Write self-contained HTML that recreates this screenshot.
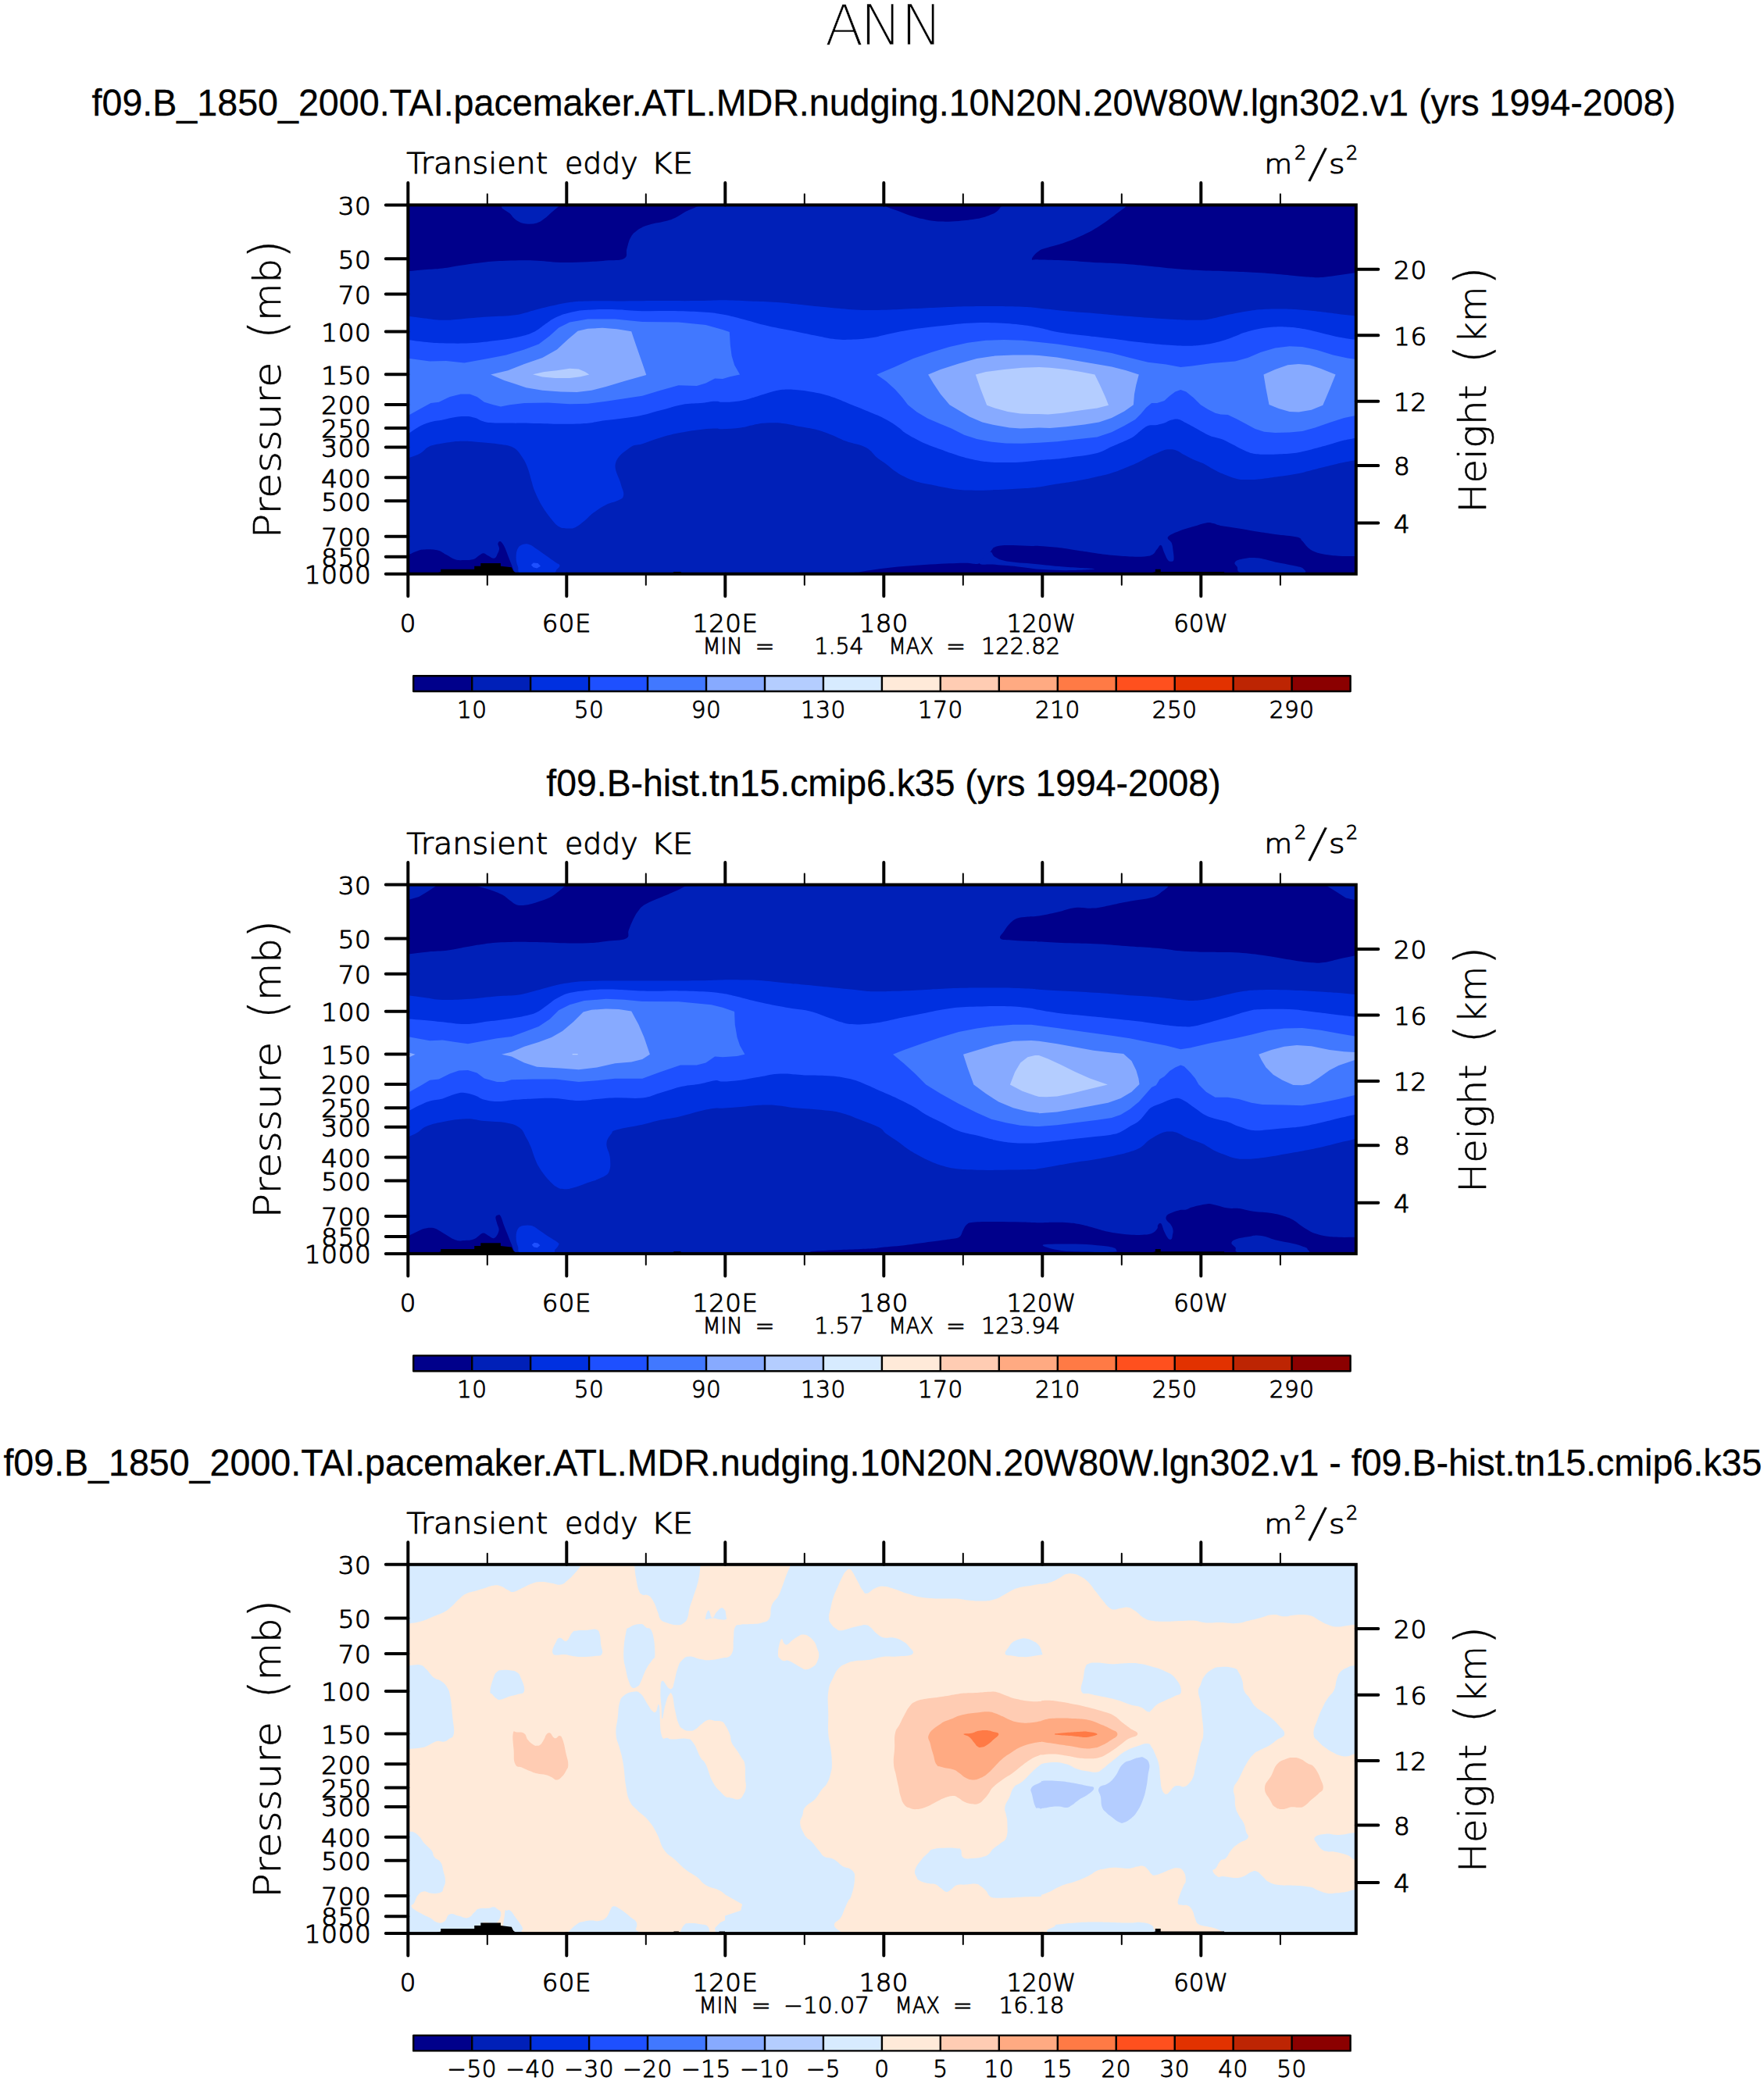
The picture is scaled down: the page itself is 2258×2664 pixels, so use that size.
<!DOCTYPE html>
<html lang="en"><head><meta charset="utf-8"><title>ANN Transient eddy KE</title>
<style>html,body{margin:0;padding:0;background:#fff}svg{display:block}.h{font-family:"DejaVu Sans Light","DejaVu Sans","Liberation Sans",sans-serif;font-weight:200;fill:#000;stroke:#000;stroke-linejoin:round}.t{font-family:"Liberation Sans",sans-serif;fill:#000;font-size:48px;stroke:#000;stroke-width:0.3px}</style></head><body>
<svg width="2258" height="2664" viewBox="0 0 2258 2664">
<rect width="2258" height="2664" fill="#fff"/>
<text class="h" x="1055.9 1100.9 1153.1" y="57.4" font-size="72" style="stroke:#fff" stroke-width="0.6">ANN</text>
<g transform="translate(0,0.0)">
<text class="t" x="117.5" y="148.3" textLength="2027.5" lengthAdjust="spacingAndGlyphs">f09.B_1850_2000.TAI.pacemaker.ATL.MDR.nudging.10N20N.20W80W.lgn302.v1 (yrs 1994-2008)</text>
<rect x="522.3" y="262.4" width="1213.5" height="472.3" fill="#0020b8"/>
<g clip-path="url(#clip)" shape-rendering="geometricPrecision">
<path d="M520.0 347.0C522.8 366.4 519.5 347.4 524.2 347.0C528.8 346.6 534.8 345.9 543.2 345.2C551.7 344.5 557.2 344.6 566.5 343.5C575.8 342.5 579.5 341.3 589.7 339.8C600.0 338.3 606.0 337.1 617.6 335.9C629.2 334.7 634.8 334.2 647.8 333.8C660.9 333.3 668.8 333.1 682.7 333.5C696.6 334.0 703.6 335.5 717.6 335.9C731.5 336.2 740.8 335.6 752.4 335.2C764.0 334.7 766.4 334.4 775.7 333.5C785.0 332.7 793.6 334.0 798.9 331.0C804.3 328.0 800.8 323.7 802.4 318.4C804.0 313.1 804.5 309.1 807.0 304.5C809.6 299.8 810.8 298.4 815.2 295.2C819.6 291.9 822.2 290.5 829.1 288.2C836.1 285.9 843.1 285.4 850.0 283.6C857.0 281.7 858.4 281.5 864.0 278.9C869.6 276.4 872.4 273.7 877.9 270.8C883.5 267.9 887.2 267.1 891.9 264.5C896.5 262.0 977.6 260.9 901.2 258.0C824.8 255.1 586.2 232.2 510.0 250.0C433.8 267.8 517.2 327.6 520.0 347.0Z" fill="#00008b"/>
<path d="M646.7 262.6C634.1 265.0 650.6 270.3 653.6 274.3C656.7 278.2 657.8 280.0 661.8 282.4C665.7 284.8 668.3 285.8 673.4 286.4C678.5 287.0 682.7 286.7 687.3 285.4C692.0 284.2 692.9 282.8 696.6 280.1C700.4 277.4 702.3 275.1 705.9 271.9C709.6 268.8 712.7 266.4 714.8 264.5C716.9 262.6 730.0 263.0 716.4 262.6C702.8 262.3 659.2 260.3 646.7 262.6Z" fill="#0020b8"/>
<path d="M1131.9 262.6C1102.1 263.0 1130.9 263.1 1134.2 264.5C1137.4 265.9 1141.6 267.2 1148.1 269.6C1154.6 272.0 1159.3 274.3 1166.7 276.6C1174.2 278.9 1177.9 279.8 1185.3 281.2C1192.8 282.6 1195.5 283.2 1203.9 283.6C1212.3 283.9 1217.9 283.6 1227.2 282.9C1236.5 282.2 1242.5 281.6 1250.4 280.1C1258.3 278.6 1261.6 277.3 1266.7 275.4C1271.8 273.6 1273.0 273.0 1276.0 270.8C1278.9 268.6 1279.9 266.1 1281.3 264.5C1282.7 262.9 1312.8 263.0 1282.9 262.6C1253.0 262.3 1161.6 262.3 1131.9 262.6Z" fill="#00008b"/>
<path d="M1443.9 260.3C1382.1 263.2 1443.9 262.0 1441.1 264.5C1438.3 267.1 1435.0 269.3 1429.9 273.1C1424.9 276.9 1422.0 279.4 1416.0 283.6C1410.0 287.8 1406.7 290.1 1399.7 294.0C1392.8 298.0 1389.0 299.8 1381.1 303.3C1373.2 306.8 1367.7 308.9 1360.2 311.5C1352.8 314.0 1350.0 314.2 1343.9 316.1C1337.9 318.1 1334.6 318.1 1330.0 321.2C1325.4 324.3 1320.9 329.4 1320.9 331.7C1320.9 333.9 1321.2 332.0 1330.0 332.4C1338.8 332.7 1350.9 332.8 1364.9 333.5C1378.8 334.2 1385.8 335.1 1399.7 335.9C1413.7 336.7 1420.6 336.6 1434.6 337.5C1448.5 338.4 1455.5 339.2 1469.5 340.5C1483.4 341.8 1490.4 342.8 1504.3 344.0C1518.3 345.2 1525.2 345.6 1539.2 346.3C1553.1 347.0 1560.1 346.9 1574.0 347.5C1588.0 348.0 1595.0 348.3 1608.9 349.1C1622.9 349.9 1632.2 350.7 1643.8 351.7C1655.4 352.6 1658.2 353.3 1667.0 354.0C1675.9 354.7 1680.0 355.3 1687.9 355.2C1695.8 355.0 1697.3 354.5 1706.5 353.3C1715.7 352.1 1725.6 350.5 1734.0 349.3C1742.3 348.2 1745.2 367.4 1748.4 347.5C1751.6 327.6 1810.9 267.4 1750.0 250.0C1689.1 232.6 1505.7 257.4 1443.9 260.3Z" fill="#00008b"/>
<path d="M520.0 404.7C520.8 368.2 519.5 404.6 524.2 405.1C528.8 405.7 534.8 406.5 543.2 407.5C551.7 408.4 557.2 409.6 566.5 409.8C575.8 410.0 578.1 409.2 589.7 408.4C601.3 407.5 610.6 406.6 624.6 405.6C638.5 404.6 647.8 404.9 659.5 403.3C671.1 401.6 673.4 399.8 682.7 397.5C692.0 395.1 696.6 393.7 705.9 391.6C715.2 389.6 719.9 388.3 729.2 387.0C738.5 385.7 738.5 385.7 752.4 385.4C766.4 385.0 780.3 385.4 798.9 385.4C817.5 385.3 826.8 385.2 845.4 385.1C864.0 385.1 876.0 385.3 891.9 385.1C907.8 385.0 911.3 384.2 924.9 384.2C938.5 384.3 945.9 384.8 959.9 385.4C973.8 385.9 980.8 386.0 994.7 387.0C1008.7 388.0 1015.6 389.1 1029.6 390.5C1043.5 391.9 1050.5 392.7 1064.5 394.0C1078.4 395.2 1085.4 396.2 1099.3 396.8C1113.3 397.3 1120.2 397.1 1134.2 396.8C1148.1 396.4 1155.1 395.8 1169.0 395.1C1183.0 394.5 1190.0 394.1 1203.9 393.5C1217.9 392.9 1224.8 392.6 1238.8 392.3C1252.7 392.1 1259.7 392.0 1273.6 392.1C1287.6 392.2 1297.3 392.3 1308.5 392.8C1319.8 393.3 1318.6 393.4 1329.9 394.4C1341.2 395.5 1350.9 396.9 1364.9 398.2C1378.8 399.5 1385.8 399.8 1399.7 400.9C1413.7 402.1 1420.6 402.8 1434.6 404.0C1448.5 405.1 1455.5 405.7 1469.5 406.8C1483.4 407.8 1491.8 408.5 1504.3 409.1C1516.9 409.7 1522.9 410.0 1532.2 409.8C1541.5 409.5 1542.4 409.4 1550.8 407.9C1559.2 406.5 1564.8 404.5 1574.0 402.6C1583.3 400.6 1588.0 399.5 1597.3 398.2C1606.6 396.8 1611.2 396.3 1620.5 395.8C1629.8 395.3 1634.5 395.4 1643.8 395.6C1653.1 395.8 1657.7 396.1 1667.0 396.8C1676.3 397.5 1681.0 398.0 1690.3 399.1C1699.6 400.2 1704.8 401.0 1713.5 402.1C1722.2 403.2 1727.0 403.7 1734.0 404.4C1740.9 405.1 1745.5 369.2 1748.4 405.6C1751.2 441.9 1751.2 549.5 1748.4 586.2C1745.5 622.9 1740.5 587.9 1734.0 589.2C1727.4 590.5 1723.2 591.1 1715.8 592.7C1708.5 594.3 1704.7 595.5 1697.2 597.3C1689.8 599.2 1686.1 600.1 1678.6 602.0C1671.2 603.9 1668.4 605.0 1660.0 606.6C1651.7 608.3 1645.6 608.9 1636.8 610.1C1628.0 611.4 1623.8 612.1 1615.9 612.9C1608.0 613.7 1603.8 614.1 1597.3 614.1C1590.8 614.1 1588.9 614.1 1583.3 612.9C1577.8 611.8 1575.0 610.5 1569.4 608.3C1563.8 606.1 1561.0 604.9 1555.5 602.0C1549.9 599.1 1546.6 596.4 1541.5 593.9C1536.4 591.3 1535.0 591.5 1529.9 589.2C1524.8 586.9 1520.6 584.7 1515.9 582.2C1511.3 579.8 1510.4 578.3 1506.6 576.9C1502.9 575.5 1501.1 575.3 1497.3 575.3C1493.6 575.3 1491.8 575.7 1488.0 576.9C1484.3 578.1 1482.5 579.4 1478.8 581.1C1475.0 582.7 1473.6 583.2 1469.5 585.3C1465.3 587.3 1463.4 588.9 1457.8 591.5C1452.3 594.2 1448.5 595.7 1441.6 598.5C1434.6 601.3 1431.3 602.9 1423.0 605.5C1414.6 608.0 1409.0 609.2 1399.7 611.3C1390.4 613.4 1385.8 614.3 1376.5 615.9C1367.2 617.6 1362.6 617.9 1353.2 619.4C1343.9 620.9 1338.8 622.2 1329.9 623.4C1320.9 624.5 1319.8 624.5 1308.5 625.2C1297.3 626.0 1287.6 626.6 1273.6 627.1C1259.7 627.6 1250.4 627.9 1238.8 627.6C1227.2 627.2 1224.8 626.6 1215.5 625.2C1206.2 623.8 1201.1 622.4 1192.3 620.6C1183.5 618.7 1178.3 618.0 1171.4 615.9C1164.4 613.8 1162.5 612.7 1157.4 610.1C1152.3 607.6 1150.5 606.4 1145.8 603.2C1141.2 599.9 1138.8 597.3 1134.2 593.9C1129.5 590.4 1127.7 589.9 1122.6 585.7C1117.4 581.5 1116.5 577.1 1108.6 572.9C1100.7 568.8 1091.9 568.1 1083.0 564.8C1074.2 561.5 1071.9 559.6 1064.5 556.7C1057.0 553.7 1053.8 552.3 1045.9 550.2C1038.0 548.1 1033.8 547.8 1024.9 546.2C1016.1 544.6 1010.5 543.0 1001.7 542.0C992.9 541.1 988.2 541.2 980.8 541.6C973.3 541.9 971.0 542.7 964.5 543.9C958.0 545.0 956.1 546.3 948.2 547.4C940.3 548.4 931.6 549.0 925.0 549.2C918.4 549.5 921.7 548.3 915.1 548.5C908.5 548.8 901.2 549.2 891.9 550.4C882.6 551.6 877.9 552.4 868.6 554.3C859.3 556.3 854.7 557.4 845.4 560.2C836.1 562.9 830.0 565.7 822.2 568.3C814.3 570.8 813.2 568.1 806.3 572.9C799.5 577.8 790.4 583.6 788.0 592.7C785.6 601.8 792.2 610.1 794.3 618.3C796.3 626.4 798.7 629.0 798.2 633.4C797.7 637.8 796.4 637.8 791.9 640.3C787.4 642.9 782.2 642.9 775.7 646.2C769.2 649.4 765.0 652.4 759.4 656.6C753.8 660.8 752.4 663.4 747.8 667.1C743.1 670.8 740.8 673.3 736.2 675.2C731.5 677.1 728.7 676.6 724.5 676.4C720.4 676.1 719.0 676.4 715.2 674.0C711.5 671.7 710.1 669.9 705.9 664.7C701.8 659.6 698.5 655.4 694.3 648.5C690.1 641.5 687.8 636.4 685.0 629.9C682.2 623.4 682.2 622.0 680.4 615.9C678.5 609.9 678.0 605.7 675.7 599.7C673.4 593.6 672.5 591.1 668.8 585.7C665.0 580.4 663.6 576.4 657.1 572.9C650.6 569.5 645.0 569.7 636.2 568.3C627.4 566.9 622.3 566.7 613.0 566.0C603.7 565.3 599.0 564.5 589.7 564.8C580.4 565.1 574.6 566.2 566.5 567.6C558.4 569.0 554.6 569.3 549.1 571.8C543.5 574.2 543.6 577.1 538.6 579.9C533.6 582.7 527.9 584.2 524.2 585.7C520.5 587.3 520.8 623.8 520.0 587.6C519.2 551.4 519.2 441.2 520.0 404.7Z" fill="#0030e0"/>
<path d="M520.0 434.6C520.8 410.3 519.5 434.7 524.2 435.3C528.8 435.9 534.8 436.9 543.2 437.7C551.7 438.5 554.9 439.0 566.5 439.3C578.1 439.6 587.4 440.0 601.3 439.3C615.3 438.6 623.7 437.4 636.2 435.8C648.8 434.2 654.8 433.2 664.1 431.2C673.4 429.1 676.2 428.4 682.7 425.3C689.2 422.3 691.1 419.8 696.6 416.0C702.2 412.3 704.1 409.9 710.6 406.8C717.1 403.6 720.8 402.2 729.2 400.2C737.6 398.2 740.8 397.5 752.4 396.8C764.0 396.0 773.3 396.0 787.3 396.3C801.2 396.6 805.9 397.8 822.2 398.2C838.4 398.5 852.4 397.8 868.6 398.2C884.9 398.5 892.3 398.9 903.5 399.8C914.8 400.7 915.9 400.9 924.9 402.6C933.8 404.2 936.6 405.0 948.2 407.9C959.9 410.8 969.2 414.0 983.1 417.2C997.1 420.5 1005.4 421.6 1018.0 424.2C1030.5 426.7 1035.6 428.0 1045.9 430.0C1056.1 432.0 1059.8 433.2 1069.1 434.2C1078.4 435.1 1082.6 435.1 1092.3 434.6C1102.1 434.2 1108.6 433.3 1117.9 431.9C1127.2 430.4 1128.6 429.3 1138.8 427.2C1149.1 425.1 1156.0 423.4 1169.0 421.4C1182.1 419.4 1190.0 418.7 1203.9 417.2C1217.9 415.7 1224.8 414.5 1238.8 413.7C1252.7 412.9 1259.7 412.8 1273.6 413.3C1287.6 413.7 1297.3 414.8 1308.5 416.0C1319.8 417.3 1320.9 417.8 1329.9 419.5C1338.8 421.3 1341.6 422.9 1353.2 424.9C1364.9 426.9 1374.2 427.8 1388.1 429.5C1402.1 431.3 1409.0 431.8 1423.0 433.5C1436.9 435.2 1443.9 436.5 1457.8 438.1C1471.8 439.8 1480.1 440.7 1492.7 441.6C1505.2 442.5 1511.3 442.8 1520.6 442.8C1529.9 442.8 1531.7 442.5 1539.2 441.6C1546.6 440.7 1550.3 440.0 1557.8 438.1C1565.2 436.3 1569.4 434.8 1576.4 432.3C1583.3 429.9 1586.1 428.0 1592.6 425.8C1599.1 423.6 1601.9 422.8 1608.9 421.4C1615.9 420.0 1620.5 419.4 1627.5 418.8C1634.5 418.2 1636.8 418.1 1643.8 418.4C1650.7 418.6 1654.5 418.8 1662.4 420.0C1670.3 421.2 1674.5 422.2 1683.3 424.2C1692.1 426.2 1698.2 428.1 1706.5 430.0C1714.9 431.9 1719.6 432.6 1725.1 433.5C1730.6 434.4 1729.3 434.2 1734.0 434.6C1738.6 435.1 1745.5 411.2 1748.4 435.8C1751.2 460.4 1751.2 532.8 1748.4 557.8C1745.5 582.8 1739.5 559.7 1734.0 560.9C1728.4 562.0 1726.9 562.0 1720.5 563.6C1714.1 565.3 1709.3 566.9 1701.9 569.0C1694.4 571.1 1690.7 572.1 1683.3 574.1C1675.9 576.1 1672.6 577.4 1664.7 578.7C1656.8 580.1 1652.1 580.5 1643.8 581.1C1635.4 581.7 1630.3 581.8 1622.9 581.8C1615.4 581.8 1612.6 582.1 1606.6 581.1C1600.5 580.0 1598.7 579.0 1592.6 576.4C1586.6 573.9 1582.0 571.1 1576.4 568.3C1570.8 565.5 1570.3 564.6 1564.8 562.5C1559.2 560.4 1555.0 560.5 1548.5 557.8C1542.0 555.1 1538.3 552.3 1532.2 549.0C1526.2 545.7 1522.9 544.0 1518.3 541.6C1513.6 539.1 1512.7 537.7 1509.0 536.9C1505.2 536.1 1503.4 536.7 1499.7 537.6C1496.0 538.5 1494.1 540.3 1490.4 541.6C1486.7 542.8 1485.3 543.2 1481.1 543.9C1476.9 544.6 1473.6 543.6 1469.5 545.0C1465.3 546.5 1463.9 548.5 1460.2 551.3C1456.4 554.1 1455.0 556.3 1450.9 559.0C1446.7 561.7 1444.8 562.2 1439.2 564.8C1433.7 567.4 1429.9 568.8 1423.0 571.8C1416.0 574.8 1413.7 577.4 1404.4 579.9C1395.1 582.5 1386.7 583.0 1376.5 584.6C1366.3 586.1 1362.6 586.7 1353.2 587.6C1343.9 588.5 1338.8 588.4 1329.9 589.2C1320.9 590.0 1317.0 591.0 1308.5 591.5C1300.0 592.1 1296.0 592.0 1287.6 592.0C1279.2 592.0 1274.1 592.1 1266.7 591.5C1259.2 591.0 1258.3 590.8 1250.4 589.2C1242.5 587.6 1236.5 586.2 1227.2 583.4C1217.9 580.6 1212.3 578.3 1203.9 575.3C1195.5 572.2 1192.3 571.3 1185.3 568.3C1178.3 565.3 1174.6 563.2 1169.0 560.2C1163.5 557.1 1161.1 555.7 1157.4 553.2C1153.7 550.6 1155.1 550.6 1150.5 547.4C1145.8 544.1 1142.1 541.1 1134.2 536.9C1126.3 532.7 1120.2 530.4 1110.9 526.5C1101.6 522.5 1097.0 520.9 1087.7 517.2C1078.4 513.4 1073.8 510.9 1064.5 507.9C1055.2 504.8 1050.5 503.8 1041.2 502.0C1031.9 500.3 1026.3 499.6 1018.0 499.0C1009.6 498.4 1007.3 498.0 999.4 499.0C991.5 500.1 986.4 502.1 978.5 504.4C970.6 506.6 966.8 508.3 959.9 510.2C952.9 512.0 950.6 512.7 943.6 513.7C936.6 514.6 930.7 514.8 925.0 514.8C919.3 514.8 920.8 513.4 915.1 513.7C909.4 513.9 904.9 515.2 896.5 516.0C888.2 516.8 883.5 516.0 873.3 517.9C863.1 519.7 857.0 522.3 845.4 525.3C833.8 528.3 829.1 530.4 815.2 533.0C801.2 535.5 789.1 536.3 775.7 538.1C762.2 539.9 759.4 541.1 747.8 542.0C736.2 543.0 730.6 542.7 717.6 542.7C704.5 542.7 696.6 542.3 682.7 542.0C668.8 541.8 659.9 541.9 647.8 541.6C635.7 541.2 630.2 541.7 622.3 540.4C614.4 539.1 613.4 536.5 608.3 535.1C603.2 533.6 601.8 533.2 596.7 533.0C591.6 532.7 588.8 533.0 582.8 533.9C576.7 534.8 573.0 536.1 566.5 537.4C560.0 538.7 556.3 538.6 550.2 540.4C544.2 542.2 541.5 543.4 536.3 546.2C531.1 549.0 527.4 552.2 524.2 554.3C520.9 556.5 520.8 581.1 520.0 557.1C519.2 533.2 519.2 459.0 520.0 434.6Z" fill="#1e50ff"/>
<path d="M520.0 458.4L524.2 459.0L550.2 462.5L571.1 462.1L594.4 464.4L624.6 459.0L647.8 454.4L671.1 447.4L689.7 440.5L703.6 430.0L715.2 419.5L729.2 412.6L752.4 408.6L787.3 408.4L822.2 411.9L868.6 412.6L903.5 416.0L924.9 421.9L933.8 424.9L934.8 441.6L936.6 455.6L940.1 467.2L947.1 479.5L934.3 482.3L925.0 485.1L915.1 484.6L903.5 490.4L891.9 493.9L868.6 493.2L845.4 499.7L822.2 506.7L798.9 510.2L775.7 513.7L752.4 516.7L729.2 517.2L701.3 515.5L671.1 516.0L652.5 518.3L640.9 520.6L631.6 518.3L619.9 514.8L610.6 507.9L601.3 504.4L589.7 504.4L575.8 507.9L561.8 514.8L551.4 516.0L538.6 523.0L524.2 531.1L520.0 533.9Z" fill="#4178ff"/>
<path d="M1122.1 479.5L1145.8 469.5L1169.0 459.0L1192.3 450.9L1215.5 443.9L1238.8 438.8L1262.0 435.8L1285.3 435.1L1308.5 435.8L1329.9 438.1L1353.2 440.5L1388.1 445.8L1423.0 452.1L1446.2 457.9L1469.5 463.7L1492.7 466.5L1511.3 470.0L1527.6 468.3L1550.8 464.9L1581.0 462.5L1597.3 457.9L1613.6 450.9L1632.2 445.6L1650.7 443.2L1667.0 443.9L1685.6 448.1L1706.5 454.4L1725.1 458.4L1734.0 459.7L1748.4 460.7L1748.4 529.9L1734.0 532.3L1720.5 535.1L1701.9 541.1L1683.3 547.4L1667.0 552.0L1650.7 553.6L1632.2 553.9L1618.2 552.7L1606.6 549.0L1595.0 542.7L1583.3 536.4L1571.7 531.1L1562.4 530.4L1555.5 528.8L1546.2 524.1L1536.9 518.3L1527.6 509.0L1518.3 501.6L1511.3 499.0L1504.3 501.6L1497.3 506.7L1490.4 513.0L1481.1 516.0L1474.1 516.0L1467.1 521.8L1460.2 529.9L1453.2 536.9L1439.2 545.0L1423.0 553.2L1404.4 559.5L1376.5 562.5L1353.2 565.3L1329.9 566.7L1308.5 567.8L1287.6 567.6L1266.7 565.3L1250.4 562.0L1234.1 556.7L1217.9 548.5L1203.9 542.7L1187.6 535.7L1173.7 527.6L1162.1 518.3L1155.1 509.0L1145.8 498.6L1134.2 488.1L1122.1 479.5Z" fill="#4178ff"/>
<path d="M628.1 479.5L650.2 474.2L671.1 466.0L694.3 457.9L712.9 447.4L726.9 434.6L739.6 423.7L752.4 420.7L771.0 419.8L789.6 421.2L808.2 424.2L814.0 441.6L822.2 464.9L827.3 480.0L798.9 488.1L775.7 495.1L757.1 499.7L738.5 502.0L717.6 501.4L694.3 499.7L673.4 496.2L659.5 491.6L645.5 486.9Z" fill="#87aaff"/>
<path d="M1188.1 479.5L1203.9 473.0L1227.2 465.6L1250.4 459.0L1273.6 455.6L1296.9 454.4L1320.1 454.4L1329.9 455.1L1353.2 457.4L1376.5 461.4L1399.7 465.6L1423.0 469.5L1441.6 474.2L1457.8 479.5L1454.3 492.8L1452.0 504.4L1450.9 518.3L1439.2 526.5L1423.0 535.1L1406.7 540.4L1388.1 543.4L1364.9 546.2L1343.9 548.1L1329.9 547.6L1320.1 548.1L1306.2 548.5L1292.2 547.4L1273.6 544.3L1257.4 540.4L1241.1 533.4L1227.2 525.3L1215.5 518.3L1203.9 504.4L1194.6 490.4L1188.1 479.5Z" fill="#87aaff"/>
<path d="M1617.5 479.5L1632.2 473.0L1648.4 467.2L1662.4 466.0L1676.3 467.2L1690.3 471.8L1709.6 479.5L1701.9 498.6L1693.3 518.8L1678.6 524.8L1662.4 527.6L1650.7 527.1L1636.8 523.0L1624.5 517.9L1620.5 497.4Z" fill="#87aaff"/>
<path d="M682.0 479.3L696.6 476.0L712.9 474.2L729.2 471.8L740.8 472.5L748.9 476.0L754.3 479.5L743.1 482.3L729.2 483.9L710.6 483.9L694.3 482.5Z" fill="#b4cdff"/>
<path d="M1248.8 479.5L1262.0 476.0L1285.3 473.0L1308.5 470.7L1329.9 470.0L1343.9 470.7L1364.9 473.0L1383.5 476.0L1401.4 479.5L1407.9 492.8L1414.8 507.9L1419.0 518.8L1404.4 522.5L1383.5 525.3L1360.2 528.8L1341.6 530.4L1329.9 529.9L1320.1 529.9L1306.2 529.5L1289.9 527.1L1273.6 522.5L1263.2 518.8L1255.0 497.4L1248.8 479.5Z" fill="#b4cdff"/>
<path d="M520.0 711.2C520.8 705.8 521.4 710.8 524.2 709.6C527.0 708.4 530.1 706.6 533.9 705.4C537.8 704.2 538.1 703.8 543.2 703.6C548.4 703.3 553.9 703.0 559.5 704.3C565.1 705.6 566.5 707.7 571.1 710.1C575.8 712.5 578.1 715.0 582.8 716.3C587.4 717.7 589.7 717.1 594.4 717.0C599.0 716.9 602.3 717.0 606.0 715.9C609.7 714.7 610.4 712.8 613.0 711.2C615.5 709.7 616.5 708.2 618.8 708.2C621.1 708.2 621.8 709.9 624.6 711.2C627.4 712.5 630.2 715.4 632.7 714.7C635.3 714.0 636.1 710.3 637.4 707.7C638.6 705.2 639.0 704.3 639.0 701.9C639.0 699.6 637.1 697.9 637.4 696.1C637.7 694.4 638.8 692.4 640.4 693.1C642.0 693.8 643.6 696.0 645.5 699.6C647.5 703.2 648.3 706.6 650.2 711.2C652.0 715.9 653.2 718.7 654.8 722.9C656.4 727.0 657.1 729.4 658.3 732.1C659.5 734.9 688.3 735.9 660.6 736.8C633.0 737.7 548.1 741.9 520.0 736.8C491.9 731.7 519.2 716.7 520.0 711.2Z" fill="#00008b"/>
<path d="M668.8 734.5C660.4 732.6 664.6 729.4 662.9 725.2C661.3 721.0 660.6 718.2 660.6 713.6C660.6 708.9 661.1 705.3 662.9 701.9C664.8 698.6 666.9 697.8 669.9 696.8C672.9 695.9 674.6 696.0 678.0 697.3C681.5 698.5 683.2 700.3 687.3 703.1C691.5 705.9 694.3 708.0 699.0 711.2C703.6 714.5 707.1 716.9 710.6 719.4C714.1 721.8 715.9 721.7 716.4 723.5C716.9 725.4 715.2 726.5 712.9 728.7C710.6 730.8 713.6 733.3 704.8 734.5C695.9 735.6 677.1 736.3 668.8 734.5Z" fill="#0030e0"/>
<path d="M679.9 723.3L682.7 720.5L688.5 721.0L692.0 724.7L687.3 727.5L682.7 726.3Z" fill="#1e50ff"/>
<path d="M1097.0 734.5C967.3 732.7 1092.2 733.9 1100.0 732.4C1107.9 730.9 1118.1 729.0 1136.3 727.0C1154.4 725.1 1171.1 723.9 1190.7 722.6C1210.2 721.4 1221.3 721.1 1234.1 720.8C1247.0 720.4 1248.2 723.8 1255.0 720.8C1261.9 717.7 1265.0 709.4 1268.5 705.4C1272.0 701.4 1270.1 702.2 1272.5 700.8C1274.9 699.4 1275.7 699.0 1280.6 698.4C1285.5 697.9 1289.0 697.9 1296.9 698.0C1304.8 698.1 1313.5 698.7 1320.1 698.9C1326.7 699.1 1323.4 698.5 1330.0 698.9C1336.6 699.3 1343.9 699.7 1353.2 700.8C1362.5 701.8 1367.2 702.9 1376.5 704.3C1385.8 705.7 1390.4 706.4 1399.7 707.7C1409.0 709.0 1413.7 709.8 1423.0 710.8C1432.3 711.7 1437.8 712.1 1446.2 712.4C1454.6 712.7 1459.0 712.9 1464.8 712.4C1470.6 711.9 1472.0 711.9 1475.3 710.1C1478.5 708.2 1478.9 705.5 1481.1 703.1C1483.3 700.7 1484.3 697.1 1486.2 698.0C1488.0 698.9 1488.6 703.9 1490.4 707.7C1492.1 711.6 1493.2 714.9 1495.0 717.0C1496.9 719.2 1498.2 718.9 1499.7 718.7C1501.2 718.4 1502.1 718.8 1502.5 715.9C1502.8 713.0 1502.1 708.4 1501.5 704.3C1501.0 700.1 1501.0 698.3 1499.7 695.0C1498.4 691.6 1493.2 690.5 1495.0 687.5C1496.9 684.5 1502.5 682.5 1509.0 679.9C1515.5 677.2 1520.6 676.1 1527.6 674.0C1534.5 672.0 1538.7 670.2 1543.8 669.4C1548.9 668.6 1549.4 669.4 1553.1 670.1C1556.8 670.8 1555.9 671.6 1562.4 672.9C1568.9 674.1 1576.4 674.8 1585.7 676.4C1595.0 677.9 1599.6 679.0 1608.9 680.6C1618.2 682.1 1621.9 682.6 1632.2 684.0C1642.4 685.4 1653.1 685.8 1660.0 687.5C1667.0 689.2 1664.2 690.0 1667.0 692.6C1669.8 695.3 1670.7 698.0 1674.0 700.8C1677.2 703.6 1678.6 704.7 1683.3 706.6C1687.9 708.4 1691.2 709.0 1697.2 710.1C1703.3 711.1 1706.2 711.3 1713.5 711.7C1720.8 712.1 1727.0 711.9 1734.0 711.9C1740.9 712.0 1745.5 706.0 1748.4 711.9C1751.2 717.8 1878.6 736.9 1748.4 741.4C1618.1 746.0 1226.7 736.3 1097.0 734.5Z" fill="#00008b"/>
<path d="M1253.9 721.0C1253.2 717.9 1263.2 708.6 1267.1 707.0C1271.1 705.5 1269.3 710.8 1273.6 713.1C1278.0 715.4 1278.5 716.7 1288.7 718.4C1299.0 720.2 1310.5 720.5 1325.0 721.9C1339.5 723.3 1345.9 724.2 1361.1 725.4C1376.4 726.7 1398.9 727.3 1401.1 728.2C1403.3 729.1 1385.2 729.9 1372.1 730.1C1359.0 730.2 1349.5 730.1 1335.7 729.1C1321.9 728.2 1316.2 726.7 1303.2 725.4C1290.1 724.1 1280.2 723.5 1270.4 722.6C1260.5 721.7 1254.5 724.1 1253.9 721.0Z" fill="#0020b8"/>
<path d="M1581.0 719.4C1582.4 717.4 1584.7 716.4 1590.3 715.4C1595.9 714.4 1600.5 713.5 1608.9 714.3C1617.3 715.0 1622.9 717.4 1632.2 719.4C1641.5 721.3 1648.2 722.3 1655.4 724.0C1662.6 725.7 1666.8 725.9 1668.2 728.0C1669.6 730.1 1677.0 733.2 1662.4 734.5C1647.7 735.8 1610.8 736.3 1595.0 734.5C1579.2 732.6 1586.1 728.2 1583.3 725.2C1580.6 722.2 1579.6 721.3 1581.0 719.4Z" fill="#0020b8"/>
<path d="M556.0 734.5L564.2 732.1L564.2 728.7L607.2 728.7L607.2 724.7L615.3 724.7L615.3 721.0L640.9 721.0L640.9 724.7L654.8 726.3L657.1 731.0L661.8 734.5Z" fill="#000"/>
<path d="M859.3 734.5L862.8 732.1L871.0 732.1L874.5 734.5Z" fill="#000"/>
<path d="M1469.5 734.5L1478.8 732.1L1478.8 728.7L1485.7 728.7L1485.7 732.1L1567.1 732.1L1567.1 734.5Z" fill="#000"/>
</g>
<rect x="522.3" y="262.4" width="1213.5" height="472.3" fill="none" stroke="#000" stroke-width="4"/>
<path d="M522.3 262.4v-28.5M522.3 734.7v28.5M725.3 262.4v-28.5M725.3 734.7v28.5M928.3 262.4v-28.5M928.3 734.7v28.5M1131.3 262.4v-28.5M1131.3 734.7v28.5M1334.3 262.4v-28.5M1334.3 734.7v28.5M1537.3 262.4v-28.5M1537.3 734.7v28.5" stroke="#000" stroke-width="4" stroke-linecap="round" fill="none"/>
<path d="M623.8 262.4v-14M623.8 734.7v14M826.8 262.4v-14M826.8 734.7v14M1029.8 262.4v-14M1029.8 734.7v14M1232.8 262.4v-14M1232.8 734.7v14M1435.8 262.4v-14M1435.8 734.7v14M1638.9 262.4v-14M1638.9 734.7v14" stroke="#000" stroke-width="2" stroke-linecap="round" fill="none"/>
<text class="h" x="475.5" y="274.7" font-size="32.6" stroke-width="1.1" text-anchor="end" letter-spacing="0.7">30</text>
<text class="h" x="475.5" y="343.5" font-size="32.6" stroke-width="1.1" text-anchor="end" letter-spacing="0.7">50</text>
<text class="h" x="475.5" y="388.8" font-size="32.6" stroke-width="1.1" text-anchor="end" letter-spacing="0.7">70</text>
<text class="h" x="475.5" y="436.9" font-size="32.6" stroke-width="1.1" text-anchor="end" letter-spacing="0.7">100</text>
<text class="h" x="475.5" y="491.5" font-size="32.6" stroke-width="1.1" text-anchor="end" letter-spacing="0.7">150</text>
<text class="h" x="475.5" y="530.2" font-size="32.6" stroke-width="1.1" text-anchor="end" letter-spacing="0.7">200</text>
<text class="h" x="475.5" y="560.3" font-size="32.6" stroke-width="1.1" text-anchor="end" letter-spacing="0.7">250</text>
<text class="h" x="475.5" y="584.8" font-size="32.6" stroke-width="1.1" text-anchor="end" letter-spacing="0.7">300</text>
<text class="h" x="475.5" y="623.6" font-size="32.6" stroke-width="1.1" text-anchor="end" letter-spacing="0.7">400</text>
<text class="h" x="475.5" y="653.6" font-size="32.6" stroke-width="1.1" text-anchor="end" letter-spacing="0.7">500</text>
<text class="h" x="475.5" y="699.0" font-size="32.6" stroke-width="1.1" text-anchor="end" letter-spacing="0.7">700</text>
<text class="h" x="475.5" y="725.1" font-size="32.6" stroke-width="1.1" text-anchor="end" letter-spacing="0.7">850</text>
<text class="h" x="475.5" y="747.0" font-size="32.6" stroke-width="1.1" text-anchor="end" letter-spacing="0.7">1000</text>
<text class="h" x="1784.0" y="681.9" font-size="32.6" stroke-width="1.1" text-anchor="start" letter-spacing="0.7">4</text>
<text class="h" x="1784.0" y="608.3" font-size="32.6" stroke-width="1.1" text-anchor="start" letter-spacing="0.7">8</text>
<text class="h" x="1784.0" y="526.0" font-size="32.6" stroke-width="1.1" text-anchor="start" letter-spacing="0.7">12</text>
<text class="h" x="1784.0" y="441.6" font-size="32.6" stroke-width="1.1" text-anchor="start" letter-spacing="0.7">16</text>
<text class="h" x="1784.0" y="357.0" font-size="32.6" stroke-width="1.1" text-anchor="start" letter-spacing="0.7">20</text>
<path d="M522.3 262.4h-28.5M522.3 331.2h-28.5M522.3 376.5h-28.5M522.3 424.6h-28.5M522.3 479.2h-28.5M522.3 517.9h-28.5M522.3 548.0h-28.5M522.3 572.5h-28.5M522.3 611.3h-28.5M522.3 641.3h-28.5M522.3 686.7h-28.5M522.3 712.8h-28.5M522.3 734.7h-28.5M1735.8 669.6h28.5M1735.8 596.0h28.5M1735.8 513.7h28.5M1735.8 429.3h28.5M1735.8 344.7h28.5" stroke="#000" stroke-width="4" stroke-linecap="round" fill="none"/>
<text class="h" x="522.3" y="808.8" font-size="32.4" stroke-width="1.0" text-anchor="middle" letter-spacing="0.5">0</text>
<text class="h" x="725.3" y="808.8" font-size="32.4" stroke-width="1.0" text-anchor="middle" letter-spacing="0.5">60E</text>
<text class="h" x="928.3" y="808.8" font-size="32.4" stroke-width="1.0" text-anchor="middle" letter-spacing="0.5">120E</text>
<text class="h" x="1131.3" y="808.8" font-size="32.4" stroke-width="1.0" text-anchor="middle" letter-spacing="0.5">180</text>
<text class="h" x="1288.8" y="808.8" font-size="32.4" stroke-width="1.0" text-anchor="start" textLength="88.5" lengthAdjust="spacingAndGlyphs">120W</text>
<text class="h" x="1502.3" y="808.8" font-size="32.4" stroke-width="1.0" text-anchor="start" textLength="69.5" lengthAdjust="spacingAndGlyphs">60W</text>
<text class="h"><tspan x="520.3" y="222.4" font-size="38.1" stroke-width="1.0" textLength="181.0" lengthAdjust="spacingAndGlyphs">Transient</tspan> <tspan x="723" y="222.4" font-size="38.1" stroke-width="1.0" textLength="93.5" lengthAdjust="spacingAndGlyphs">eddy</tspan> <tspan x="833.3" y="222.4" font-size="38.1" stroke-width="1.0" textLength="54.0" lengthAdjust="spacingAndGlyphs">KE</tspan></text>
<text class="h"><tspan x="1618.5" y="222.2" font-size="34.5" stroke-width="1.0" textLength="35.5" lengthAdjust="spacingAndGlyphs">m</tspan><tspan x="1657" y="204.3" font-size="24" stroke-width="1.0">2</tspan><tspan x="1674.5" y="226.4" font-size="55" stroke-width="0.3" rotate="9.5">/</tspan><tspan x="1701" y="222.2" font-size="34.5" stroke-width="1.0" textLength="20.5" lengthAdjust="spacingAndGlyphs">s</tspan><tspan x="1723" y="204.3" font-size="24" stroke-width="1.0">2</tspan></text>
<text class="h" transform="translate(359,0) rotate(-90)"><tspan x="-689.5" y="0.0" font-size="48" stroke-width="0.6" textLength="226.0" lengthAdjust="spacingAndGlyphs">Pressure</tspan> <tspan x="-434.5" y="3.6" font-size="62.4" stroke-width="0.3">(</tspan><tspan x="-411.0" y="0.0" font-size="48" stroke-width="0.6" textLength="80.0" lengthAdjust="spacingAndGlyphs">mb</tspan><tspan x="-331.2" y="3.6" font-size="62.4" stroke-width="0.3">)</tspan></text>
<text class="h" transform="translate(1902,0) rotate(-90)"><tspan x="-656.5" y="0.0" font-size="48" stroke-width="0.6" textLength="164.0" lengthAdjust="spacingAndGlyphs">Height</tspan> <tspan x="-465.7" y="3.6" font-size="62.4" stroke-width="0.3">(</tspan><tspan x="-439.5" y="0.0" font-size="48" stroke-width="0.6" textLength="73.0" lengthAdjust="spacingAndGlyphs">km</tspan><tspan x="-365.2" y="3.6" font-size="62.4" stroke-width="0.3">)</tspan></text>
<text class="h"><tspan x="899.5" y="836.8" font-size="28.3" stroke-width="0.9" textLength="51.0" lengthAdjust="spacingAndGlyphs">MIN</tspan> <tspan x="966.5" y="836.8" font-size="28.3" stroke-width="0.9" textLength="25.0" lengthAdjust="spacingAndGlyphs">=</tspan> <tspan x="1042.5" y="836.8" font-size="28.3" stroke-width="0.9" textLength="63.0" lengthAdjust="spacingAndGlyphs">1.54</tspan> <tspan x="1137.5" y="836.8" font-size="28.3" stroke-width="0.9" textLength="57.5" lengthAdjust="spacingAndGlyphs">MAX</tspan> <tspan x="1211.0" y="836.8" font-size="28.3" stroke-width="0.9" textLength="25.0" lengthAdjust="spacingAndGlyphs">=</tspan> <tspan x="1256.0" y="836.8" font-size="28.3" stroke-width="0.9" textLength="101.0" lengthAdjust="spacingAndGlyphs">122.82</tspan></text>
<rect x="529.20" y="865.2" width="75.46" height="19.8" fill="#00008b"/>
<rect x="604.16" y="865.2" width="75.46" height="19.8" fill="#0020b8"/>
<rect x="679.12" y="865.2" width="75.46" height="19.8" fill="#0030e0"/>
<rect x="754.08" y="865.2" width="75.46" height="19.8" fill="#1e50ff"/>
<rect x="829.04" y="865.2" width="75.46" height="19.8" fill="#4178ff"/>
<rect x="904.00" y="865.2" width="75.46" height="19.8" fill="#87aaff"/>
<rect x="978.96" y="865.2" width="75.46" height="19.8" fill="#b4cdff"/>
<rect x="1053.92" y="865.2" width="75.46" height="19.8" fill="#d7ebff"/>
<rect x="1128.88" y="865.2" width="75.46" height="19.8" fill="#ffead9"/>
<rect x="1203.84" y="865.2" width="75.46" height="19.8" fill="#ffccb3"/>
<rect x="1278.80" y="865.2" width="75.46" height="19.8" fill="#ffaa82"/>
<rect x="1353.76" y="865.2" width="75.46" height="19.8" fill="#ff7a45"/>
<rect x="1428.72" y="865.2" width="75.46" height="19.8" fill="#ff501e"/>
<rect x="1503.68" y="865.2" width="75.46" height="19.8" fill="#e23200"/>
<rect x="1578.64" y="865.2" width="75.46" height="19.8" fill="#bd2503"/>
<rect x="1653.60" y="865.2" width="75.46" height="19.8" fill="#8b0000"/>
<path d="M529.2 865.2H1728.6V885H529.2ZM604.2 865.2V885M679.1 865.2V885M754.1 865.2V885M829.0 865.2V885M904.0 865.2V885M979.0 865.2V885M1053.9 865.2V885M1128.9 865.2V885M1203.8 865.2V885M1278.8 865.2V885M1353.8 865.2V885M1428.7 865.2V885M1503.7 865.2V885M1578.6 865.2V885M1653.6 865.2V885" stroke="#000" stroke-width="2.4" fill="none" stroke-linejoin="round"/>
<text class="h" x="604.2" y="918.6" font-size="29.5" stroke-width="0.9" text-anchor="middle" letter-spacing="0.5">10</text>
<text class="h" x="754.1" y="918.6" font-size="29.5" stroke-width="0.9" text-anchor="middle" letter-spacing="0.5">50</text>
<text class="h" x="904.0" y="918.6" font-size="29.5" stroke-width="0.9" text-anchor="middle" letter-spacing="0.5">90</text>
<text class="h" x="1053.9" y="918.6" font-size="29.5" stroke-width="0.9" text-anchor="middle" letter-spacing="0.5">130</text>
<text class="h" x="1203.8" y="918.6" font-size="29.5" stroke-width="0.9" text-anchor="middle" letter-spacing="0.5">170</text>
<text class="h" x="1353.8" y="918.6" font-size="29.5" stroke-width="0.9" text-anchor="middle" letter-spacing="0.5">210</text>
<text class="h" x="1503.7" y="918.6" font-size="29.5" stroke-width="0.9" text-anchor="middle" letter-spacing="0.5">250</text>
<text class="h" x="1653.6" y="918.6" font-size="29.5" stroke-width="0.9" text-anchor="middle" letter-spacing="0.5">290</text>
</g>
<g transform="translate(0,870.2)">
<text class="t" x="699.3" y="148.7" textLength="863.3" lengthAdjust="spacingAndGlyphs">f09.B-hist.tn15.cmip6.k35 (yrs 1994-2008)</text>
<rect x="522.3" y="262.4" width="1213.5" height="472.3" fill="#0020b8"/>
<g clip-path="url(#clip)" shape-rendering="geometricPrecision">
<path d="M520.0 351.4C522.8 371.6 518.6 351.6 524.2 351.0C529.8 350.3 538.0 349.1 547.9 348.2C557.7 347.3 563.7 347.5 573.5 346.3C583.2 345.1 587.4 343.8 596.7 342.1C606.0 340.5 609.3 339.4 619.9 338.2C630.6 336.9 637.6 336.3 650.2 335.9C662.7 335.4 669.2 335.6 682.7 335.9C696.2 336.1 703.6 336.8 717.6 337.0C731.5 337.3 740.8 337.5 752.4 337.0C764.0 336.6 765.9 335.9 775.7 334.7C785.4 333.5 795.4 334.0 801.2 331.2C807.0 328.4 802.9 325.6 804.7 320.8C806.6 315.9 808.0 311.9 810.5 306.8C813.1 301.7 814.3 299.1 817.5 295.2C820.8 291.2 821.2 290.3 826.8 287.1C832.4 283.8 838.4 281.9 845.4 278.9C852.4 275.9 855.6 274.7 861.7 271.9C867.7 269.2 872.1 267.1 875.6 265.0C879.1 262.9 952.2 264.5 879.1 261.5C806.0 258.5 581.8 232.0 510.0 250.0C438.2 268.0 517.2 331.2 520.0 351.4Z" fill="#00008b"/>
<path d="M520.0 260.3L559.5 260.3L557.2 264.5L547.9 270.8L536.3 277.8L524.2 281.2L520.0 281.9Z" fill="#0020b8"/>
<path d="M608.3 261.5C586.0 262.1 608.8 262.9 613.0 264.5C617.2 266.1 623.2 267.4 629.2 269.6C635.3 271.8 638.5 272.9 643.2 275.4C647.8 278.0 648.8 279.8 652.5 282.4C656.2 285.0 657.6 287.1 661.8 288.2C666.0 289.4 668.3 288.9 673.4 288.2C678.5 287.5 681.3 286.6 687.3 284.7C693.4 282.9 698.0 281.7 703.6 278.9C709.2 276.1 711.5 273.7 715.2 270.8C719.0 267.9 720.4 266.4 722.2 264.5C724.1 262.6 747.3 262.1 724.5 261.5C701.8 260.9 630.6 260.9 608.3 261.5Z" fill="#0020b8"/>
<path d="M1498.5 260.3C1447.6 263.2 1497.6 262.4 1495.5 264.5C1493.4 266.6 1492.3 267.9 1488.0 270.8C1483.8 273.7 1482.5 276.4 1474.1 278.9C1465.7 281.5 1456.4 281.7 1446.2 283.6C1436.0 285.4 1432.3 286.4 1423.0 288.2C1413.7 290.0 1409.0 291.7 1399.7 292.4C1390.4 293.1 1385.8 290.7 1376.5 291.7C1367.2 292.7 1362.5 295.4 1353.2 297.5C1343.9 299.6 1337.6 301.0 1330.0 302.2C1322.4 303.3 1321.2 302.6 1315.5 303.3C1309.8 304.0 1306.2 303.8 1301.5 305.6C1296.9 307.5 1295.5 309.4 1292.2 312.6C1289.0 315.9 1287.6 318.2 1285.3 321.9C1282.9 325.6 1278.3 328.9 1280.6 331.2C1282.9 333.5 1289.0 332.8 1296.9 333.5C1304.8 334.2 1313.5 334.4 1320.1 334.7C1326.7 335.0 1321.1 334.7 1330.0 335.2C1338.9 335.6 1349.5 336.4 1364.9 337.0C1380.2 337.6 1390.4 337.4 1406.7 338.2C1423.0 339.0 1431.3 340.1 1446.2 341.2C1461.1 342.3 1467.1 342.3 1481.1 343.5C1495.0 344.8 1502.0 346.5 1515.9 347.5C1529.9 348.5 1536.9 348.3 1550.8 348.6C1564.8 349.0 1571.7 348.4 1585.7 349.3C1599.6 350.3 1606.6 351.3 1620.5 353.3C1634.5 355.2 1643.8 357.3 1655.4 359.1C1667.0 360.9 1670.7 361.6 1678.6 362.1C1686.5 362.7 1687.9 362.8 1694.9 361.9C1701.9 361.0 1705.7 359.2 1713.5 357.5C1721.3 355.8 1727.0 354.6 1734.0 353.3C1740.9 352.0 1745.2 371.6 1748.4 351.0C1751.6 330.3 1800.0 268.1 1750.0 250.0C1700.0 231.9 1549.4 257.4 1498.5 260.3Z" fill="#00008b"/>
<path d="M1696.1 261.5L1699.6 264.5L1711.2 271.9L1722.8 279.4L1734.0 281.9L1748.4 282.4L1748.4 261.5Z" fill="#0020b8"/>
<path d="M520.0 404.0C520.8 367.5 519.5 403.9 524.2 404.4C528.8 405.0 534.8 405.7 543.2 406.8C551.7 407.8 554.9 409.4 566.5 409.8C578.1 410.1 587.4 409.5 601.3 408.6C615.3 407.7 623.7 406.2 636.2 405.1C648.8 404.1 653.9 404.8 664.1 403.3C674.3 401.7 678.0 399.9 687.3 397.5C696.6 395.0 702.2 393.1 710.6 391.2C719.0 389.2 720.8 388.8 729.2 387.7C737.6 386.6 738.5 386.3 752.4 385.8C766.4 385.4 780.3 385.5 798.9 385.4C817.5 385.3 826.8 385.4 845.4 385.4C864.0 385.3 876.0 385.4 891.9 385.1C907.8 384.9 913.6 384.4 924.9 384.2C936.2 384.0 938.9 384.1 948.2 384.2C957.6 384.3 959.9 383.9 971.5 384.7C983.1 385.5 992.4 386.8 1006.3 388.2C1020.3 389.6 1027.3 390.3 1041.2 391.6C1055.2 393.0 1064.5 394.0 1076.1 395.1C1087.7 396.3 1091.0 396.7 1099.3 397.5C1107.7 398.2 1108.6 398.9 1117.9 399.1C1127.2 399.3 1133.3 399.0 1145.8 398.6C1158.4 398.2 1166.7 397.7 1180.7 397.0C1194.6 396.3 1201.6 395.6 1215.5 395.1C1229.5 394.6 1236.5 394.6 1250.4 394.4C1264.3 394.3 1271.3 394.2 1285.3 394.4C1299.2 394.7 1311.2 395.2 1320.1 395.6C1329.0 396.0 1320.9 395.9 1329.9 396.5C1338.8 397.1 1349.5 397.7 1364.9 398.6C1380.2 399.5 1390.4 399.9 1406.7 400.9C1423.0 402.0 1431.3 402.9 1446.2 404.0C1461.1 405.0 1468.1 405.1 1481.1 406.3C1494.1 407.5 1502.0 408.9 1511.3 409.8C1520.6 410.7 1520.6 410.9 1527.6 410.7C1534.5 410.5 1537.8 410.1 1546.2 408.6C1554.5 407.1 1560.1 405.3 1569.4 403.3C1578.7 401.3 1583.3 399.9 1592.6 398.6C1601.9 397.4 1603.3 397.2 1615.9 397.0C1628.4 396.8 1640.5 397.0 1655.4 397.5C1670.3 397.9 1678.6 398.6 1690.3 399.3C1701.9 400.0 1704.8 400.2 1713.5 400.9C1722.2 401.6 1727.0 402.2 1734.0 402.8C1740.9 403.4 1745.5 367.6 1748.4 404.0C1751.2 440.3 1751.2 547.7 1748.4 584.6C1745.5 621.4 1740.9 586.4 1734.0 588.0C1727.0 589.7 1722.2 590.6 1713.5 592.7C1704.8 594.8 1699.6 596.4 1690.3 598.5C1681.0 600.6 1676.3 601.4 1667.0 603.2C1657.7 604.9 1653.1 605.7 1643.8 607.3C1634.5 609.0 1629.8 610.0 1620.5 611.3C1611.2 612.5 1605.2 613.4 1597.3 613.6C1589.4 613.8 1587.1 613.6 1581.0 612.5C1575.0 611.3 1572.7 609.9 1567.1 607.8C1561.5 605.7 1558.7 604.8 1553.1 602.0C1547.6 599.2 1545.7 596.9 1539.2 593.9C1532.7 590.8 1527.1 589.7 1520.6 586.9C1514.1 584.1 1511.3 581.6 1506.6 579.9C1502.0 578.2 1501.1 578.3 1497.3 578.3C1493.6 578.3 1492.2 578.4 1488.0 579.9C1483.9 581.4 1480.1 583.6 1476.4 585.7C1472.7 587.8 1472.7 587.8 1469.5 590.4C1466.2 592.9 1464.8 595.7 1460.2 598.5C1455.5 601.3 1452.7 602.2 1446.2 604.3C1439.7 606.4 1436.0 607.1 1427.6 609.0C1419.3 610.8 1414.6 611.8 1404.4 613.6C1394.1 615.4 1386.7 616.2 1376.5 617.8C1366.3 619.4 1362.6 620.2 1353.2 621.7C1343.9 623.3 1336.5 624.7 1329.9 625.7C1323.3 626.7 1329.0 626.5 1320.1 626.9C1311.2 627.2 1299.2 627.4 1285.3 627.6C1271.3 627.7 1262.0 627.8 1250.4 627.6C1238.8 627.3 1235.5 627.3 1227.2 626.4C1218.8 625.5 1215.5 624.8 1208.6 622.9C1201.6 621.0 1198.8 619.9 1192.3 617.1C1185.8 614.3 1182.1 612.2 1176.0 609.0C1170.0 605.7 1167.7 604.5 1162.1 600.8C1156.5 597.1 1153.7 594.3 1148.1 590.4C1142.6 586.4 1138.8 584.6 1134.2 581.1C1129.5 577.6 1131.9 576.7 1124.9 572.9C1117.9 569.2 1109.1 566.2 1099.3 562.5C1089.6 558.8 1085.4 556.7 1076.1 554.3C1066.8 552.0 1064.5 552.1 1052.8 550.9C1041.2 549.6 1029.6 549.2 1018.0 548.1C1006.3 546.9 1004.0 545.7 994.7 545.0C985.4 544.3 980.8 544.2 971.5 544.6C962.2 545.0 957.5 546.1 948.2 546.9C938.9 547.7 931.6 548.2 925.0 548.5C918.4 548.9 920.8 547.8 915.1 548.5C909.4 549.2 905.8 549.8 896.5 552.0C887.2 554.2 878.9 557.1 868.6 559.5C858.4 561.8 854.7 561.6 845.4 563.6C836.1 565.6 833.3 567.0 822.2 569.5C811.0 571.9 797.5 573.6 789.6 576.0C781.7 578.3 785.3 577.5 782.6 581.1C780.0 584.7 776.7 587.8 776.4 593.9C776.0 599.9 780.1 604.3 780.8 611.3C781.5 618.3 781.8 623.6 779.9 628.7C777.9 633.8 776.5 633.8 771.0 636.9C765.5 639.9 759.9 641.1 752.4 643.8C745.0 646.5 739.9 648.7 733.8 650.3C727.8 652.0 726.4 652.1 722.2 652.0C718.0 651.8 717.1 652.2 712.9 649.6C708.7 647.1 705.7 644.1 701.3 639.2C696.9 634.3 694.1 630.3 690.8 625.2C687.6 620.1 687.3 619.2 685.0 613.6C682.7 608.0 681.5 602.9 679.2 597.3C676.9 591.8 676.2 590.5 673.4 585.7C670.6 581.0 670.4 577.4 665.3 573.6C660.2 569.9 656.9 568.9 647.8 567.1C638.8 565.4 630.2 565.8 619.9 564.8C609.7 563.8 607.4 561.8 596.7 562.0C586.0 562.2 576.7 564.0 566.5 566.0C556.3 567.9 552.1 569.0 545.6 571.8C539.1 574.6 538.2 577.4 533.9 579.9C529.7 582.5 527.0 583.2 524.2 584.6C521.4 586.0 520.8 623.0 520.0 586.9C519.2 550.8 519.2 440.5 520.0 404.0Z" fill="#0030e0"/>
<path d="M520.0 433.7C520.8 409.8 519.5 433.8 524.2 434.2C528.8 434.6 534.8 435.0 543.2 435.8C551.7 436.6 555.8 437.1 566.5 438.1C577.2 439.2 585.1 441.1 596.7 440.9C608.3 440.8 613.0 438.9 624.6 437.4C636.2 435.9 644.1 435.2 654.8 433.5C665.5 431.8 671.1 430.7 678.0 428.8C685.0 427.0 685.0 426.7 689.7 424.2C694.3 421.6 696.6 419.3 701.3 416.0C705.9 412.8 707.3 410.9 712.9 407.9C718.5 404.9 721.3 403.0 729.2 400.9C737.1 398.9 743.1 398.4 752.4 397.5C761.7 396.5 766.4 396.4 775.7 396.3C785.0 396.2 787.3 396.5 798.9 397.0C810.5 397.5 819.8 398.4 833.8 398.6C847.7 398.9 854.7 398.0 868.6 398.2C882.6 398.3 892.3 398.6 903.5 399.3C914.8 400.0 916.9 400.4 924.9 401.6C932.9 402.9 934.3 403.4 943.6 405.6C952.9 407.8 958.9 409.8 971.5 412.6C984.0 415.4 993.3 417.2 1006.3 419.5C1019.4 421.9 1025.9 421.6 1036.6 424.2C1047.3 426.7 1051.9 429.5 1059.8 432.3C1067.7 435.1 1070.0 436.4 1076.1 438.1C1082.1 439.9 1083.0 440.5 1090.0 440.9C1097.0 441.4 1102.1 441.2 1110.9 440.5C1119.8 439.7 1124.9 438.7 1134.2 437.0C1143.5 435.2 1148.1 433.8 1157.4 431.9C1166.7 429.9 1169.0 429.4 1180.7 427.2C1192.3 425.0 1201.6 422.5 1215.5 420.7C1229.5 418.9 1236.5 418.9 1250.4 418.4C1264.3 417.8 1272.2 417.6 1285.3 417.9C1298.3 418.2 1306.6 419.1 1315.5 420.0C1324.4 420.9 1322.3 421.3 1329.9 422.6C1337.4 423.9 1341.6 425.0 1353.2 426.5C1364.9 428.0 1374.2 428.6 1388.1 430.0C1402.1 431.4 1409.0 432.0 1423.0 433.5C1436.9 435.0 1444.8 435.8 1457.8 437.4C1470.9 439.1 1477.4 440.3 1488.0 441.6C1498.7 442.9 1503.4 443.6 1511.3 443.9C1519.2 444.3 1519.7 444.7 1527.6 443.5C1535.5 442.2 1541.5 440.1 1550.8 437.7C1560.1 435.2 1564.8 433.9 1574.0 431.2C1583.3 428.5 1588.9 426.0 1597.3 424.2C1605.7 422.3 1605.2 422.3 1615.9 421.9C1626.6 421.4 1638.2 421.3 1650.7 421.9C1663.3 422.5 1667.5 423.6 1678.6 424.9C1689.8 426.2 1695.5 427.0 1706.5 428.4C1717.6 429.7 1725.6 430.6 1734.0 431.6C1742.3 432.6 1745.5 409.2 1748.4 433.5C1751.2 457.8 1751.2 528.5 1748.4 553.2C1745.5 577.8 1740.9 555.0 1734.0 556.7C1727.0 558.3 1722.2 559.2 1713.5 561.3C1704.8 563.4 1699.6 565.0 1690.3 567.1C1681.0 569.2 1676.3 570.4 1667.0 571.8C1657.7 573.2 1652.6 573.3 1643.8 574.1C1634.9 574.9 1630.8 575.4 1622.9 576.0C1615.0 576.5 1611.7 577.7 1604.3 576.9C1596.8 576.1 1592.2 574.0 1585.7 571.8C1579.2 569.6 1577.3 567.8 1571.7 566.0C1566.1 564.1 1563.4 564.1 1557.8 562.5C1552.2 560.9 1549.4 560.6 1543.8 557.8C1538.3 555.0 1535.0 552.0 1529.9 548.5C1524.8 545.0 1522.4 543.0 1518.3 540.4C1514.1 537.8 1512.7 536.4 1509.0 535.7C1505.2 535.1 1503.9 535.7 1499.7 536.9C1495.5 538.1 1493.2 539.5 1488.0 541.6C1482.9 543.7 1478.3 544.8 1474.1 547.4C1469.9 549.9 1470.4 550.9 1467.1 554.3C1463.9 557.8 1462.0 561.3 1457.8 564.8C1453.7 568.3 1450.9 569.0 1446.2 571.8C1441.6 574.6 1439.2 576.7 1434.6 578.7C1429.9 580.8 1429.0 581.1 1423.0 582.2C1416.9 583.4 1413.7 583.5 1404.4 584.6C1395.1 585.6 1386.7 586.4 1376.5 587.6C1366.3 588.7 1362.6 589.3 1353.2 590.4C1343.9 591.4 1336.5 592.3 1329.9 592.9C1323.3 593.5 1326.7 593.4 1320.1 593.4C1313.5 593.3 1306.2 593.5 1296.9 592.7C1287.6 591.9 1282.9 591.1 1273.6 589.2C1264.3 587.3 1259.7 585.7 1250.4 583.4C1241.1 581.1 1236.5 581.1 1227.2 577.6C1217.9 574.1 1212.3 570.1 1203.9 566.0C1195.5 561.8 1192.3 560.6 1185.3 556.7C1178.3 552.7 1176.5 550.4 1169.0 546.2C1161.6 542.0 1156.5 539.7 1148.1 535.7C1139.8 531.8 1135.6 530.2 1127.2 526.5C1118.8 522.7 1114.2 520.3 1106.3 517.2C1098.4 514.0 1096.1 512.9 1087.7 510.9C1079.3 508.9 1076.1 508.1 1064.5 507.2C1052.8 506.2 1042.6 506.8 1029.6 506.2C1016.6 505.7 1011.0 503.9 999.4 504.4C987.8 504.8 981.7 506.9 971.5 508.6C961.3 510.2 957.5 511.3 948.2 512.5C938.9 513.7 931.6 514.3 925.0 514.4C918.4 514.5 920.8 512.4 915.1 513.0C909.4 513.5 904.9 515.6 896.5 517.2C888.2 518.7 883.5 518.3 873.3 520.6C863.1 523.0 855.6 525.8 845.4 528.8C835.2 531.7 833.8 534.0 822.2 535.3C810.5 536.5 798.9 534.7 787.3 535.1C775.7 535.4 773.3 536.2 764.0 536.9C754.8 537.7 751.5 539.0 740.8 538.8C730.1 538.5 722.2 536.3 710.6 535.7C699.0 535.2 692.9 535.8 682.7 536.2C672.5 536.6 668.3 536.9 659.5 537.6C650.6 538.4 646.4 539.9 638.5 539.9C630.6 539.9 626.0 539.1 619.9 537.6C613.9 536.1 613.4 534.0 608.3 532.3C603.2 530.5 599.5 529.1 594.4 528.8C589.3 528.4 588.3 528.9 582.8 530.4C577.2 531.9 573.0 534.4 566.5 536.2C560.0 538.0 556.3 537.5 550.2 539.2C544.2 541.0 541.5 542.6 536.3 545.0C531.1 547.5 527.4 549.6 524.2 551.3C520.9 553.0 520.8 577.2 520.0 553.6C519.2 530.1 519.2 457.6 520.0 433.7Z" fill="#1e50ff"/>
<path d="M520.0 456.5L524.2 457.2L550.2 462.1L566.5 461.4L582.8 463.7L599.0 466.0L617.6 462.5L636.2 459.0L654.8 456.7L671.1 450.9L689.7 443.9L703.6 434.6L715.2 423.0L729.2 416.0L747.8 410.9L775.7 408.6L798.9 409.5L822.2 411.9L868.6 412.1L910.5 416.0L924.9 419.5L940.1 424.9L940.8 441.6L943.6 457.9L947.1 468.3L953.4 479.5L943.6 481.8L925.0 483.0L915.1 482.3L903.5 490.4L891.9 493.4L871.0 493.2L845.4 502.0L822.2 510.6L787.3 510.6L764.0 513.0L740.8 514.8L710.6 511.3L682.7 511.3L654.8 512.0L645.5 514.8L636.2 514.8L619.9 510.2L610.6 503.2L599.0 499.7L587.4 500.2L575.8 504.4L561.8 511.3L550.2 512.5L538.6 519.5L524.2 527.6L520.0 530.4Z" fill="#4178ff"/>
<path d="M1143.0 479.5L1157.4 473.7L1180.7 465.6L1203.9 457.9L1227.2 450.9L1250.4 446.3L1273.6 443.2L1296.9 441.6L1320.1 441.6L1329.9 442.8L1353.2 445.8L1388.1 450.9L1423.0 455.6L1446.2 459.0L1469.5 463.7L1492.7 468.3L1511.3 473.0L1522.9 471.4L1550.8 464.9L1581.0 459.0L1601.9 454.4L1622.9 449.1L1643.8 446.3L1667.0 445.8L1690.3 448.6L1713.5 452.8L1734.0 456.3L1748.4 458.4L1748.4 528.8L1734.0 531.8L1713.5 536.9L1690.3 541.6L1667.0 545.0L1643.8 544.3L1615.9 543.9L1601.9 541.6L1585.7 536.9L1571.7 534.6L1555.5 534.6L1543.8 527.6L1534.5 518.3L1529.9 510.2L1522.9 502.0L1515.9 495.1L1511.3 493.4L1504.3 496.2L1497.3 500.9L1490.4 507.9L1484.6 511.3L1479.9 519.0L1474.1 521.8L1466.0 531.1L1457.8 540.4L1446.2 549.7L1434.6 556.7L1423.0 560.9L1404.4 563.6L1376.5 567.1L1353.2 570.1L1330.0 571.8L1324.8 571.8L1306.2 570.6L1287.6 567.1L1269.0 562.5L1250.4 554.3L1227.2 542.7L1203.9 529.9L1185.3 518.3L1171.4 504.4L1157.4 491.6L1143.0 479.5Z" fill="#4178ff"/>
<path d="M642.0 479.5L654.8 476.5L671.1 469.5L689.7 463.7L705.9 457.9L719.9 449.8L733.8 438.1L746.6 425.3L757.1 422.6L775.7 421.2L791.9 421.9L808.2 424.2L817.5 441.6L824.5 457.9L831.9 479.5L822.2 485.8L808.2 489.3L787.3 491.1L764.0 496.2L740.8 499.0L717.6 497.4L687.3 495.5L671.1 490.4L654.8 482.3Z" fill="#87aaff"/>
<path d="M520.0 476.5L524.2 477.6L531.6 479.5L524.2 483.0L520.0 483.9Z" fill="#87aaff"/>
<path d="M1233.0 479.5L1250.4 474.2L1273.6 467.2L1296.9 462.5L1320.1 461.8L1329.9 462.5L1353.2 466.0L1376.5 470.2L1399.7 474.6L1423.0 477.2L1438.1 478.8L1448.5 488.1L1454.3 499.7L1457.4 510.2L1458.5 517.9L1448.5 527.6L1434.6 535.7L1418.3 541.6L1399.7 545.0L1376.5 549.2L1353.2 553.2L1330.0 555.0L1329.9 554.6L1315.5 552.7L1296.9 548.1L1278.3 540.4L1262.0 529.9L1246.4 518.3L1238.8 497.4L1233.0 479.5Z" fill="#87aaff"/>
<path d="M1611.2 479.5L1627.5 473.7L1643.8 469.5L1660.0 467.9L1678.6 469.0L1701.9 473.7L1720.5 476.0L1734.0 476.9L1748.4 477.6L1748.4 482.3L1734.0 486.9L1713.5 493.9L1701.9 499.7L1687.9 509.7L1676.3 517.2L1667.0 519.0L1655.4 518.8L1641.5 512.5L1629.8 505.5L1620.5 496.2L1614.7 486.9Z" fill="#87aaff"/>
<path d="M1292.9 518.3L1299.2 502.0L1306.2 490.4L1315.5 483.0L1324.8 480.7L1329.9 480.7L1341.6 485.3L1357.9 492.8L1376.5 502.0L1395.1 510.2L1417.9 518.3L1395.1 523.7L1371.8 529.5L1353.2 533.4L1339.3 534.1L1330.0 533.9L1324.8 532.3L1308.5 526.5L1292.9 518.3Z" fill="#b4cdff"/>
<path d="M732.7 478.8L739.6 478.8L739.6 480.0L732.7 480.0Z" fill="#b4cdff"/>
<path d="M520.0 713.1C520.8 708.0 521.4 712.5 524.2 711.2C527.0 709.9 530.1 708.3 533.9 706.6C537.8 704.9 539.1 703.6 543.2 702.6C547.4 701.7 550.2 700.9 554.9 701.9C559.5 703.0 560.9 704.7 566.5 707.7C572.1 710.8 577.2 715.0 582.8 717.0C588.3 719.0 589.7 717.9 594.4 717.7C599.0 717.6 602.3 717.6 606.0 716.3C609.7 715.1 610.4 713.3 613.0 711.7C615.5 710.1 616.5 708.5 618.8 708.4C621.1 708.3 621.8 710.0 624.6 711.2C627.4 712.5 629.9 715.9 632.7 714.7C635.5 713.6 637.8 709.1 638.5 705.4C639.2 701.7 637.0 699.6 636.2 696.1C635.4 692.6 634.1 690.2 634.4 688.0C634.6 685.8 636.1 685.4 637.4 685.2C638.7 685.0 639.2 683.9 640.9 686.8C642.5 689.7 643.7 694.7 645.5 699.6C647.4 704.5 648.3 706.6 650.2 711.2C652.0 715.9 653.2 718.7 654.8 722.9C656.4 727.0 657.1 729.4 658.3 732.1C659.5 734.9 688.3 735.9 660.6 736.8C633.0 737.7 548.1 741.5 520.0 736.8C491.9 732.1 519.2 718.2 520.0 713.1Z" fill="#00008b"/>
<path d="M668.8 734.5C660.4 732.6 664.6 729.4 662.9 725.2C661.3 721.0 660.6 718.0 660.6 713.6C660.6 709.1 661.1 706.0 662.9 703.1C664.8 700.2 666.4 699.7 669.9 698.9C673.4 698.1 676.4 697.8 680.4 698.9C684.3 700.0 685.5 701.6 689.7 704.3C693.9 707.0 696.4 709.1 701.3 712.4C706.2 715.6 711.4 718.2 714.1 720.5C716.8 722.9 715.5 722.2 714.8 724.0C714.1 725.8 712.6 727.3 710.6 729.4C708.6 731.5 713.1 733.5 704.8 734.5C696.4 735.5 677.1 736.3 668.8 734.5Z" fill="#0030e0"/>
<path d="M680.8 723.3L683.9 720.5L688.5 721.2L691.3 724.0L687.8 727.0L683.4 726.3Z" fill="#1e50ff"/>
<path d="M1087.7 734.5C962.5 731.7 1108.6 729.6 1122.6 727.5C1136.5 725.4 1143.5 725.6 1157.4 724.0C1171.4 722.4 1180.2 721.0 1192.3 719.4C1204.4 717.7 1210.7 717.1 1217.9 715.9C1225.1 714.6 1225.3 715.4 1228.3 713.1C1231.3 710.8 1231.1 707.4 1233.0 704.3C1234.8 701.1 1235.1 699.2 1237.6 697.3C1240.2 695.3 1238.5 695.2 1245.7 694.5C1253.0 693.8 1261.1 693.8 1273.6 693.8C1286.2 693.8 1297.2 694.0 1308.5 694.3C1319.8 694.5 1322.0 694.9 1330.0 695.0C1338.0 695.0 1341.2 694.5 1348.6 694.5C1356.0 694.5 1360.2 694.4 1367.2 695.0C1374.2 695.5 1377.0 696.0 1383.5 697.3C1390.0 698.6 1392.8 699.6 1399.7 701.5C1406.7 703.3 1410.0 704.9 1418.3 706.6C1426.7 708.3 1432.7 709.3 1441.6 710.1C1450.4 710.9 1456.0 710.8 1462.5 710.5C1469.0 710.3 1470.4 710.4 1474.1 708.9C1477.8 707.4 1479.5 705.3 1481.1 703.1C1482.7 700.9 1481.2 699.4 1482.2 698.0C1483.3 696.6 1484.6 694.4 1486.2 696.1C1487.8 697.8 1488.6 702.9 1490.4 706.6C1492.1 710.3 1493.3 712.8 1495.0 714.7C1496.8 716.7 1498.0 717.0 1499.2 716.3C1500.4 715.6 1500.4 713.6 1500.8 711.2C1501.3 708.8 1502.0 707.0 1501.5 704.3C1501.1 701.5 1500.0 699.6 1498.5 697.3C1497.0 695.0 1495.0 694.6 1493.9 692.6C1492.7 690.7 1492.0 689.4 1492.7 687.5C1493.4 685.7 1494.1 685.0 1497.3 683.3C1500.6 681.7 1504.8 680.2 1509.0 679.2C1513.2 678.1 1514.5 679.1 1518.3 678.2C1522.0 677.3 1522.4 676.1 1527.6 674.7C1532.7 673.3 1538.7 671.9 1543.8 671.3C1548.9 670.6 1547.6 670.7 1553.1 671.7C1558.7 672.7 1565.2 675.3 1571.7 676.4C1578.2 677.4 1579.2 676.0 1585.7 676.8C1592.2 677.7 1595.9 679.3 1604.3 680.6C1612.6 681.8 1619.6 681.6 1627.5 682.9C1635.4 684.1 1638.2 685.1 1643.8 686.8C1649.4 688.5 1651.2 689.2 1655.4 691.5C1659.6 693.8 1661.0 695.9 1664.7 698.4C1668.4 701.0 1670.3 702.2 1674.0 704.3C1677.7 706.4 1678.6 707.3 1683.3 708.9C1687.9 710.5 1691.2 711.5 1697.2 712.4C1703.3 713.3 1706.2 713.3 1713.5 713.6C1720.8 713.8 1727.0 713.6 1734.0 713.6C1740.9 713.6 1745.5 708.0 1748.4 713.6C1751.2 719.1 1880.5 737.3 1748.4 741.4C1616.2 745.6 1212.9 737.3 1087.7 734.5Z" fill="#00008b"/>
<path d="M1334.6 724.0C1334.6 722.5 1344.9 722.7 1353.2 722.4C1361.6 722.1 1366.3 722.1 1376.5 722.4C1386.7 722.7 1395.1 723.2 1404.4 724.0C1413.7 724.8 1418.1 725.2 1423.0 726.3C1427.9 727.5 1428.8 728.6 1428.8 729.8C1428.8 731.1 1433.4 732.1 1423.0 732.6C1412.5 733.1 1390.4 732.7 1376.5 732.1C1362.5 731.6 1361.6 731.5 1353.2 729.8C1344.9 728.2 1334.6 725.5 1334.6 724.0Z" fill="#0020b8"/>
<path d="M1576.4 720.5C1576.8 718.4 1579.2 717.4 1583.3 715.9C1587.5 714.4 1592.2 714.0 1597.3 713.1C1602.4 712.2 1604.3 711.2 1608.9 711.2C1613.6 711.2 1615.9 711.9 1620.5 713.1C1625.2 714.3 1625.2 715.3 1632.2 717.0C1639.1 718.8 1648.4 720.1 1655.4 721.7C1662.4 723.3 1663.4 723.8 1667.0 725.2C1670.6 726.6 1673.5 726.8 1673.5 728.7C1673.5 730.5 1683.2 733.3 1667.0 734.5C1650.8 735.6 1609.8 736.1 1592.6 734.5C1575.4 732.8 1584.3 729.1 1581.0 726.3C1577.8 723.5 1575.9 722.6 1576.4 720.5Z" fill="#0020b8"/>
<path d="M556.0 734.5L564.2 732.1L564.2 728.7L607.2 728.7L607.2 724.7L615.3 724.7L615.3 721.0L640.9 721.0L640.9 724.7L654.8 726.3L657.1 731.0L661.8 734.5Z" fill="#000"/>
<path d="M859.3 734.5L862.8 732.1L871.0 732.1L874.5 734.5Z" fill="#000"/>
<path d="M1469.5 734.5L1478.8 732.1L1478.8 728.7L1485.7 728.7L1485.7 732.1L1567.1 732.1L1567.1 734.5Z" fill="#000"/>
</g>
<rect x="522.3" y="262.4" width="1213.5" height="472.3" fill="none" stroke="#000" stroke-width="4"/>
<path d="M522.3 262.4v-28.5M522.3 734.7v28.5M725.3 262.4v-28.5M725.3 734.7v28.5M928.3 262.4v-28.5M928.3 734.7v28.5M1131.3 262.4v-28.5M1131.3 734.7v28.5M1334.3 262.4v-28.5M1334.3 734.7v28.5M1537.3 262.4v-28.5M1537.3 734.7v28.5" stroke="#000" stroke-width="4" stroke-linecap="round" fill="none"/>
<path d="M623.8 262.4v-14M623.8 734.7v14M826.8 262.4v-14M826.8 734.7v14M1029.8 262.4v-14M1029.8 734.7v14M1232.8 262.4v-14M1232.8 734.7v14M1435.8 262.4v-14M1435.8 734.7v14M1638.9 262.4v-14M1638.9 734.7v14" stroke="#000" stroke-width="2" stroke-linecap="round" fill="none"/>
<text class="h" x="475.5" y="274.7" font-size="32.6" stroke-width="1.1" text-anchor="end" letter-spacing="0.7">30</text>
<text class="h" x="475.5" y="343.5" font-size="32.6" stroke-width="1.1" text-anchor="end" letter-spacing="0.7">50</text>
<text class="h" x="475.5" y="388.8" font-size="32.6" stroke-width="1.1" text-anchor="end" letter-spacing="0.7">70</text>
<text class="h" x="475.5" y="436.9" font-size="32.6" stroke-width="1.1" text-anchor="end" letter-spacing="0.7">100</text>
<text class="h" x="475.5" y="491.5" font-size="32.6" stroke-width="1.1" text-anchor="end" letter-spacing="0.7">150</text>
<text class="h" x="475.5" y="530.2" font-size="32.6" stroke-width="1.1" text-anchor="end" letter-spacing="0.7">200</text>
<text class="h" x="475.5" y="560.3" font-size="32.6" stroke-width="1.1" text-anchor="end" letter-spacing="0.7">250</text>
<text class="h" x="475.5" y="584.8" font-size="32.6" stroke-width="1.1" text-anchor="end" letter-spacing="0.7">300</text>
<text class="h" x="475.5" y="623.6" font-size="32.6" stroke-width="1.1" text-anchor="end" letter-spacing="0.7">400</text>
<text class="h" x="475.5" y="653.6" font-size="32.6" stroke-width="1.1" text-anchor="end" letter-spacing="0.7">500</text>
<text class="h" x="475.5" y="699.0" font-size="32.6" stroke-width="1.1" text-anchor="end" letter-spacing="0.7">700</text>
<text class="h" x="475.5" y="725.1" font-size="32.6" stroke-width="1.1" text-anchor="end" letter-spacing="0.7">850</text>
<text class="h" x="475.5" y="747.0" font-size="32.6" stroke-width="1.1" text-anchor="end" letter-spacing="0.7">1000</text>
<text class="h" x="1784.0" y="681.9" font-size="32.6" stroke-width="1.1" text-anchor="start" letter-spacing="0.7">4</text>
<text class="h" x="1784.0" y="608.3" font-size="32.6" stroke-width="1.1" text-anchor="start" letter-spacing="0.7">8</text>
<text class="h" x="1784.0" y="526.0" font-size="32.6" stroke-width="1.1" text-anchor="start" letter-spacing="0.7">12</text>
<text class="h" x="1784.0" y="441.6" font-size="32.6" stroke-width="1.1" text-anchor="start" letter-spacing="0.7">16</text>
<text class="h" x="1784.0" y="357.0" font-size="32.6" stroke-width="1.1" text-anchor="start" letter-spacing="0.7">20</text>
<path d="M522.3 262.4h-28.5M522.3 331.2h-28.5M522.3 376.5h-28.5M522.3 424.6h-28.5M522.3 479.2h-28.5M522.3 517.9h-28.5M522.3 548.0h-28.5M522.3 572.5h-28.5M522.3 611.3h-28.5M522.3 641.3h-28.5M522.3 686.7h-28.5M522.3 712.8h-28.5M522.3 734.7h-28.5M1735.8 669.6h28.5M1735.8 596.0h28.5M1735.8 513.7h28.5M1735.8 429.3h28.5M1735.8 344.7h28.5" stroke="#000" stroke-width="4" stroke-linecap="round" fill="none"/>
<text class="h" x="522.3" y="808.8" font-size="32.4" stroke-width="1.0" text-anchor="middle" letter-spacing="0.5">0</text>
<text class="h" x="725.3" y="808.8" font-size="32.4" stroke-width="1.0" text-anchor="middle" letter-spacing="0.5">60E</text>
<text class="h" x="928.3" y="808.8" font-size="32.4" stroke-width="1.0" text-anchor="middle" letter-spacing="0.5">120E</text>
<text class="h" x="1131.3" y="808.8" font-size="32.4" stroke-width="1.0" text-anchor="middle" letter-spacing="0.5">180</text>
<text class="h" x="1288.8" y="808.8" font-size="32.4" stroke-width="1.0" text-anchor="start" textLength="88.5" lengthAdjust="spacingAndGlyphs">120W</text>
<text class="h" x="1502.3" y="808.8" font-size="32.4" stroke-width="1.0" text-anchor="start" textLength="69.5" lengthAdjust="spacingAndGlyphs">60W</text>
<text class="h"><tspan x="520.3" y="222.4" font-size="38.1" stroke-width="1.0" textLength="181.0" lengthAdjust="spacingAndGlyphs">Transient</tspan> <tspan x="723" y="222.4" font-size="38.1" stroke-width="1.0" textLength="93.5" lengthAdjust="spacingAndGlyphs">eddy</tspan> <tspan x="833.3" y="222.4" font-size="38.1" stroke-width="1.0" textLength="54.0" lengthAdjust="spacingAndGlyphs">KE</tspan></text>
<text class="h"><tspan x="1618.5" y="222.2" font-size="34.5" stroke-width="1.0" textLength="35.5" lengthAdjust="spacingAndGlyphs">m</tspan><tspan x="1657" y="204.3" font-size="24" stroke-width="1.0">2</tspan><tspan x="1674.5" y="226.4" font-size="55" stroke-width="0.3" rotate="9.5">/</tspan><tspan x="1701" y="222.2" font-size="34.5" stroke-width="1.0" textLength="20.5" lengthAdjust="spacingAndGlyphs">s</tspan><tspan x="1723" y="204.3" font-size="24" stroke-width="1.0">2</tspan></text>
<text class="h" transform="translate(359,0) rotate(-90)"><tspan x="-689.5" y="0.0" font-size="48" stroke-width="0.6" textLength="226.0" lengthAdjust="spacingAndGlyphs">Pressure</tspan> <tspan x="-434.5" y="3.6" font-size="62.4" stroke-width="0.3">(</tspan><tspan x="-411.0" y="0.0" font-size="48" stroke-width="0.6" textLength="80.0" lengthAdjust="spacingAndGlyphs">mb</tspan><tspan x="-331.2" y="3.6" font-size="62.4" stroke-width="0.3">)</tspan></text>
<text class="h" transform="translate(1902,0) rotate(-90)"><tspan x="-656.5" y="0.0" font-size="48" stroke-width="0.6" textLength="164.0" lengthAdjust="spacingAndGlyphs">Height</tspan> <tspan x="-465.7" y="3.6" font-size="62.4" stroke-width="0.3">(</tspan><tspan x="-439.5" y="0.0" font-size="48" stroke-width="0.6" textLength="73.0" lengthAdjust="spacingAndGlyphs">km</tspan><tspan x="-365.2" y="3.6" font-size="62.4" stroke-width="0.3">)</tspan></text>
<text class="h"><tspan x="899.5" y="836.8" font-size="28.3" stroke-width="0.9" textLength="51.0" lengthAdjust="spacingAndGlyphs">MIN</tspan> <tspan x="966.5" y="836.8" font-size="28.3" stroke-width="0.9" textLength="25.0" lengthAdjust="spacingAndGlyphs">=</tspan> <tspan x="1042.5" y="836.8" font-size="28.3" stroke-width="0.9" textLength="63.0" lengthAdjust="spacingAndGlyphs">1.57</tspan> <tspan x="1137.5" y="836.8" font-size="28.3" stroke-width="0.9" textLength="57.5" lengthAdjust="spacingAndGlyphs">MAX</tspan> <tspan x="1211.0" y="836.8" font-size="28.3" stroke-width="0.9" textLength="25.0" lengthAdjust="spacingAndGlyphs">=</tspan> <tspan x="1256.0" y="836.8" font-size="28.3" stroke-width="0.9" textLength="101.0" lengthAdjust="spacingAndGlyphs">123.94</tspan></text>
<rect x="529.20" y="865.2" width="75.46" height="19.8" fill="#00008b"/>
<rect x="604.16" y="865.2" width="75.46" height="19.8" fill="#0020b8"/>
<rect x="679.12" y="865.2" width="75.46" height="19.8" fill="#0030e0"/>
<rect x="754.08" y="865.2" width="75.46" height="19.8" fill="#1e50ff"/>
<rect x="829.04" y="865.2" width="75.46" height="19.8" fill="#4178ff"/>
<rect x="904.00" y="865.2" width="75.46" height="19.8" fill="#87aaff"/>
<rect x="978.96" y="865.2" width="75.46" height="19.8" fill="#b4cdff"/>
<rect x="1053.92" y="865.2" width="75.46" height="19.8" fill="#d7ebff"/>
<rect x="1128.88" y="865.2" width="75.46" height="19.8" fill="#ffead9"/>
<rect x="1203.84" y="865.2" width="75.46" height="19.8" fill="#ffccb3"/>
<rect x="1278.80" y="865.2" width="75.46" height="19.8" fill="#ffaa82"/>
<rect x="1353.76" y="865.2" width="75.46" height="19.8" fill="#ff7a45"/>
<rect x="1428.72" y="865.2" width="75.46" height="19.8" fill="#ff501e"/>
<rect x="1503.68" y="865.2" width="75.46" height="19.8" fill="#e23200"/>
<rect x="1578.64" y="865.2" width="75.46" height="19.8" fill="#bd2503"/>
<rect x="1653.60" y="865.2" width="75.46" height="19.8" fill="#8b0000"/>
<path d="M529.2 865.2H1728.6V885H529.2ZM604.2 865.2V885M679.1 865.2V885M754.1 865.2V885M829.0 865.2V885M904.0 865.2V885M979.0 865.2V885M1053.9 865.2V885M1128.9 865.2V885M1203.8 865.2V885M1278.8 865.2V885M1353.8 865.2V885M1428.7 865.2V885M1503.7 865.2V885M1578.6 865.2V885M1653.6 865.2V885" stroke="#000" stroke-width="2.4" fill="none" stroke-linejoin="round"/>
<text class="h" x="604.2" y="918.6" font-size="29.5" stroke-width="0.9" text-anchor="middle" letter-spacing="0.5">10</text>
<text class="h" x="754.1" y="918.6" font-size="29.5" stroke-width="0.9" text-anchor="middle" letter-spacing="0.5">50</text>
<text class="h" x="904.0" y="918.6" font-size="29.5" stroke-width="0.9" text-anchor="middle" letter-spacing="0.5">90</text>
<text class="h" x="1053.9" y="918.6" font-size="29.5" stroke-width="0.9" text-anchor="middle" letter-spacing="0.5">130</text>
<text class="h" x="1203.8" y="918.6" font-size="29.5" stroke-width="0.9" text-anchor="middle" letter-spacing="0.5">170</text>
<text class="h" x="1353.8" y="918.6" font-size="29.5" stroke-width="0.9" text-anchor="middle" letter-spacing="0.5">210</text>
<text class="h" x="1503.7" y="918.6" font-size="29.5" stroke-width="0.9" text-anchor="middle" letter-spacing="0.5">250</text>
<text class="h" x="1653.6" y="918.6" font-size="29.5" stroke-width="0.9" text-anchor="middle" letter-spacing="0.5">290</text>
</g>
<g transform="translate(0,1740.4)">
<text class="t" x="4.4" y="148.4" textLength="2250.9" lengthAdjust="spacingAndGlyphs">f09.B_1850_2000.TAI.pacemaker.ATL.MDR.nudging.10N20N.20W80W.lgn302.v1 - f09.B-hist.tn15.cmip6.k35</text>
<rect x="522.3" y="262.4" width="1213.5" height="472.3" fill="#d7ebff"/>
<g clip-path="url(#clip)" shape-rendering="geometricPrecision">
<path d="M515.4 253.4L938.4 253.4L938.4 746.1L515.4 746.1Z" fill="#ffead9" clip-path="url(#t0)"/>
<path d="M515.4 260.3C569.3 241.9 693.5 259.3 746.6 260.3C799.8 261.3 745.6 261.5 743.1 264.5C740.7 267.5 740.0 268.9 736.2 273.1C732.4 277.3 731.2 278.9 726.9 282.4C722.5 285.9 722.4 287.3 717.6 288.2C712.7 289.1 711.9 287.2 705.9 286.4C700.0 285.5 698.0 284.6 692.0 284.7C686.0 284.9 685.8 285.3 680.4 287.1C675.0 288.8 674.2 290.0 668.8 292.4C663.3 294.8 661.5 296.9 657.1 297.5C652.8 298.2 654.0 296.9 650.2 295.2C646.4 293.5 645.2 291.4 640.9 290.1C636.5 288.7 636.4 288.7 631.6 289.4C626.7 290.0 625.4 291.2 619.9 292.9C614.5 294.5 613.7 294.7 608.3 296.4C602.9 298.0 601.6 297.4 596.7 299.8C591.8 302.3 591.7 303.0 587.4 306.8C583.1 310.6 582.4 312.3 578.1 316.1C573.8 319.9 574.2 320.1 568.8 323.1C563.4 326.1 561.4 326.2 554.9 328.9C548.4 331.6 548.1 332.5 540.9 334.7C533.8 336.9 530.1 337.1 524.2 338.2C518.2 339.3 517.4 357.5 515.4 339.3C513.3 321.2 461.4 278.8 515.4 260.3Z" fill="#d7ebff" clip-path="url(#t0)"/>
<path d="M811.7 260.3C791.9 261.3 811.6 260.2 812.2 264.5C812.7 268.8 812.8 271.8 814.0 278.9C815.3 286.1 815.6 290.0 817.5 295.2C819.4 300.3 819.4 299.5 822.2 301.0C824.9 302.5 825.9 299.8 829.1 301.7C832.4 303.6 833.1 304.1 836.1 309.1C839.1 314.1 839.7 317.7 841.9 323.1C844.1 328.5 843.0 329.2 845.4 332.4C847.8 335.5 847.5 334.8 852.4 336.6C857.3 338.3 860.9 339.7 866.3 339.8C871.7 339.9 872.4 339.3 875.6 337.0C878.9 334.7 878.6 334.4 880.3 330.1C881.9 325.7 881.0 324.4 882.6 318.4C884.2 312.5 885.1 311.0 887.2 304.5C889.4 298.0 890.1 296.5 891.9 290.5C893.6 284.6 893.6 285.0 894.7 278.9C895.8 272.8 896.0 268.8 896.5 264.5C897.1 260.2 916.8 261.3 897.0 260.3C877.2 259.3 831.5 259.3 811.7 260.3Z" fill="#d7ebff" clip-path="url(#t0)"/>
<path d="M903.0 331.2C903.3 328.6 905.0 321.4 907.0 321.2C909.0 321.1 909.2 330.1 911.6 330.5C914.1 331.0 914.7 326.0 917.4 323.1C920.2 320.2 920.8 318.5 923.3 318.0C925.7 317.4 925.5 318.5 927.9 320.8C930.3 323.0 931.8 324.9 933.7 327.7C935.6 330.5 938.8 331.6 936.0 332.8C933.3 334.0 927.5 333.2 922.1 332.8C916.7 332.5 916.6 331.3 912.8 331.2C909.0 331.1 908.1 332.4 905.8 332.4C903.5 332.4 902.8 333.8 903.0 331.2Z" fill="#d7ebff" clip-path="url(#t0)"/>
<path d="M707.8 376.5C705.4 372.7 709.6 366.1 711.8 361.4C713.9 356.7 714.0 356.6 717.1 356.3C720.2 356.0 721.4 361.9 725.0 360.3C728.6 358.6 729.5 352.4 732.7 349.3C735.8 346.3 733.9 347.7 738.5 347.0C743.1 346.3 746.7 346.6 752.4 346.3C758.1 346.0 759.4 344.5 762.9 345.6C766.4 346.7 766.1 346.5 767.5 351.0C769.0 355.5 768.5 359.0 769.2 364.9C769.9 370.9 772.3 373.1 770.6 376.5C768.8 380.0 768.7 378.6 761.7 379.6C754.8 380.5 748.4 380.7 740.8 380.5C733.2 380.3 733.5 379.5 729.2 378.9C724.8 378.2 727.2 378.2 722.2 377.7C717.2 377.2 710.2 380.3 707.8 376.5Z" fill="#d7ebff" clip-path="url(#t0)"/>
<path d="M798.2 377.7C798.2 366.6 799.4 357.9 801.2 349.8C803.0 341.7 801.5 345.4 805.9 342.8C810.2 340.2 814.9 338.7 819.8 338.7C824.7 338.7 823.3 340.3 826.8 342.8C830.3 345.3 832.2 341.5 834.9 349.3C837.6 357.2 838.4 368.3 838.4 376.5C838.4 384.8 837.1 380.9 834.9 384.7C832.8 388.5 831.6 388.7 829.1 392.8C826.7 396.9 826.6 397.2 824.5 402.1C822.3 407.0 821.7 409.9 819.8 413.7C817.9 417.5 818.8 416.9 816.3 418.4C813.9 419.8 812.1 421.6 809.4 420.0C806.7 418.4 806.6 416.7 804.7 411.4C802.8 406.1 802.8 405.3 801.2 397.5C799.7 389.6 798.2 388.8 798.2 377.7Z" fill="#d7ebff" clip-path="url(#t0)"/>
<path d="M627.4 424.2C627.7 419.3 629.5 413.6 631.6 407.9C633.6 402.2 633.5 402.2 636.2 399.8C638.9 397.3 638.8 397.8 643.2 397.5C647.5 397.1 650.5 397.4 654.8 398.2C659.1 398.9 659.1 398.5 661.8 400.5C664.5 402.5 664.3 401.2 666.4 406.8C668.6 412.3 672.2 419.0 671.1 424.2C670.0 429.3 666.1 427.2 661.8 428.8C657.4 430.5 657.4 429.6 652.5 431.2C647.6 432.7 644.9 434.8 640.9 435.3C636.8 435.9 637.5 435.0 635.1 433.5C632.6 432.0 632.2 431.0 630.4 428.8C628.6 426.7 627.1 429.1 627.4 424.2Z" fill="#d7ebff" clip-path="url(#t0)"/>
<path d="M515.4 391.6C517.4 366.7 519.0 391.8 524.2 391.6C529.3 391.5 532.4 389.9 537.4 390.9C542.4 392.0 541.5 392.6 545.6 396.3C549.6 400.0 550.5 403.2 554.9 406.8C559.2 410.3 560.1 408.4 564.2 411.4C568.2 414.4 569.4 414.7 572.3 419.5C575.2 424.4 574.9 423.4 576.5 432.3C578.1 441.3 578.2 447.0 579.3 457.9C580.3 468.7 582.0 472.3 580.9 478.8C579.8 485.3 577.7 483.3 574.6 485.8C571.5 488.2 571.2 488.6 567.6 489.3C564.1 489.9 563.6 487.8 559.5 488.6C555.4 489.4 554.6 490.9 550.2 492.8C545.9 494.6 547.0 495.3 540.9 496.7C534.8 498.1 530.1 498.1 524.2 498.6C518.2 499.0 517.4 523.5 515.4 498.6C513.3 473.6 513.3 416.6 515.4 391.6Z" fill="#d7ebff" clip-path="url(#t0)"/>
<path d="M810.5 425.3C815.4 424.8 815.5 423.9 819.8 427.7C824.2 431.5 825.6 436.5 829.1 441.6C832.7 446.8 832.5 447.6 834.9 449.8C837.4 451.9 837.5 452.4 839.6 450.9C841.6 449.4 842.1 436.5 843.8 443.2C845.4 450.0 844.0 470.3 846.6 480.0C849.1 489.6 851.2 483.2 854.7 484.6C858.2 486.1 856.2 486.1 861.7 486.2C867.1 486.4 872.0 484.3 877.9 485.3C883.9 486.3 882.9 484.9 887.2 490.4C891.6 496.0 892.7 502.5 896.5 509.0C900.3 515.5 899.7 510.7 903.5 518.3C907.3 525.9 907.9 532.9 912.8 541.6C917.7 550.2 920.4 551.2 924.4 555.5C928.4 559.8 926.7 558.0 930.0 560.2C933.3 562.3 936.4 535.0 938.4 564.8C940.3 594.6 940.3 659.8 938.4 688.0C936.4 716.2 934.3 687.7 930.0 685.7C925.7 683.6 926.0 682.1 919.8 679.2C913.6 676.2 910.0 676.8 903.5 672.9C897.0 669.0 897.8 667.0 891.9 662.4C885.9 657.8 884.4 658.3 877.9 653.1C871.4 648.0 870.5 646.3 864.0 640.3C857.5 634.4 855.5 635.4 850.0 627.6C844.6 619.7 845.6 615.6 840.7 606.6C835.9 597.7 835.1 596.3 829.1 589.2C823.2 582.2 820.6 582.1 815.2 576.4C809.8 570.7 809.1 571.9 805.9 564.8C802.6 557.8 803.1 557.3 801.2 546.2C799.3 535.1 799.6 528.5 797.7 517.2C795.9 505.8 795.3 506.2 793.1 497.4C790.9 488.6 789.0 488.7 788.5 479.5C787.9 470.3 789.7 467.3 790.8 457.9C791.9 448.5 791.2 445.8 793.1 439.3C795.0 432.8 794.8 433.2 798.9 430.0C803.0 426.7 805.7 425.9 810.5 425.3Z" fill="#d7ebff" clip-path="url(#t0)"/>
<path d="M938.4 380.7C936.4 359.0 936.5 380.3 930.0 381.2C923.5 382.1 918.3 384.1 910.5 384.7C902.7 385.2 903.0 384.6 896.5 383.5C890.0 382.4 888.0 379.8 882.6 380.0C877.2 380.3 876.8 381.1 873.3 384.7C869.8 388.2 869.9 388.4 867.5 395.1C865.0 401.9 864.5 407.8 862.8 413.7C861.2 419.7 862.1 419.1 860.5 420.7C858.9 422.3 858.8 422.9 855.9 420.7C852.9 418.5 850.2 410.3 847.7 411.4C845.3 412.5 845.7 417.8 845.4 425.3C845.1 432.9 846.0 435.8 846.6 443.9C847.1 452.1 846.6 460.2 847.7 460.2C848.8 460.2 849.3 451.0 851.2 443.9C853.1 436.9 853.7 433.4 855.9 430.0C858.0 426.6 858.6 425.2 860.5 429.5C862.4 433.9 862.1 440.1 864.0 448.6C865.9 457.1 866.2 460.3 868.6 466.0C871.1 471.7 871.2 470.8 874.5 473.0C877.7 475.2 879.1 475.2 882.6 475.3C886.1 475.5 885.8 475.9 889.6 473.7C893.4 471.5 894.8 468.9 898.9 466.0C902.9 463.1 903.2 462.2 907.0 461.4C910.8 460.6 911.1 462.0 915.1 462.5C919.2 463.1 921.0 462.1 924.4 463.7C927.9 465.3 926.7 467.1 930.0 469.5C933.3 471.9 936.4 494.9 938.4 474.2C940.3 453.4 940.3 402.4 938.4 380.7Z" fill="#d7ebff" clip-path="url(#t0)"/>
<path d="M515.4 604.3C517.4 573.4 520.7 604.0 524.2 604.3C527.7 604.6 527.4 603.9 530.5 605.5C533.6 607.1 534.4 608.0 537.4 611.3C540.4 614.5 539.7 615.4 543.2 619.4C546.8 623.5 549.6 624.7 552.5 628.7C555.5 632.8 553.3 633.3 556.0 636.9C558.7 640.4 561.4 639.5 564.2 643.8C566.9 648.2 566.3 650.0 567.6 655.4C569.0 660.9 570.0 662.2 570.0 667.1C570.0 672.0 569.0 672.8 567.6 676.4C566.3 679.9 567.7 680.6 564.2 682.2C560.6 683.8 557.7 683.6 552.5 683.3C547.4 683.1 546.1 680.5 542.1 681.0C538.0 681.6 537.8 682.4 535.1 685.7C532.4 688.9 532.4 691.4 530.5 695.0C528.6 698.5 525.1 697.5 527.0 700.8C528.9 704.0 533.2 705.7 538.6 708.9C544.0 712.2 545.3 712.0 550.2 714.7C555.1 717.4 555.2 719.4 559.5 720.5C563.9 721.6 565.0 721.8 568.8 719.4C572.6 716.9 571.4 711.7 575.8 710.1C580.1 708.4 582.0 711.3 587.4 712.4C592.8 713.5 594.4 715.8 599.0 714.7C603.6 713.6 603.9 710.5 607.2 707.7C610.4 705.0 608.9 704.3 613.0 703.1C617.0 701.8 620.3 702.9 624.6 702.4C628.9 701.9 628.9 700.6 631.6 700.8C634.3 700.9 633.9 701.2 636.2 703.1C638.5 705.0 641.1 705.1 641.3 708.9C641.6 712.7 639.7 716.4 637.4 719.4C635.1 722.3 635.1 721.4 631.6 721.7C628.0 722.0 625.5 720.3 622.3 720.5C619.0 720.8 619.2 719.1 617.6 722.9C616.0 726.6 639.2 733.5 615.3 736.8C591.4 740.1 538.7 767.7 515.4 736.8C492.0 705.9 513.3 635.2 515.4 604.3Z" fill="#d7ebff" clip-path="url(#t0)"/>
<path d="M646.7 736.8C640.9 730.3 645.7 716.2 646.2 708.9C646.7 701.6 647.3 706.1 649.0 705.4C650.7 704.7 651.2 704.0 653.6 705.9C656.1 707.8 656.2 709.1 659.5 713.6C662.7 718.1 665.4 721.4 667.6 725.2C669.8 729.0 668.8 728.2 668.8 729.8C668.8 731.5 667.0 730.5 667.6 732.1C668.1 733.8 676.0 735.7 671.1 736.8C666.2 737.9 652.5 743.3 646.7 736.8Z" fill="#d7ebff" clip-path="url(#t0)"/>
<path d="M724.5 736.8C702.0 736.3 722.4 737.7 725.7 734.5C729.0 731.2 733.3 726.4 738.5 722.9C743.6 719.3 743.4 720.5 747.8 719.4C752.1 718.3 752.7 718.4 757.1 718.2C761.4 718.0 762.0 719.5 766.4 718.7C770.7 717.9 772.1 718.1 775.7 714.7C779.2 711.4 779.3 707.7 781.5 704.3C783.6 700.8 782.5 700.5 785.0 700.1C787.4 699.6 788.1 700.3 791.9 702.4C795.7 704.5 797.4 706.0 801.2 708.9C805.0 711.8 805.2 712.3 808.2 714.7C811.2 717.2 812.4 716.9 814.0 719.4C815.6 721.8 815.2 722.7 815.2 725.2C815.2 727.6 813.2 727.9 814.0 729.8C814.8 731.7 816.8 731.7 818.7 733.3C820.6 734.9 844.1 736.0 822.2 736.8C800.2 737.6 747.0 737.3 724.5 736.8Z" fill="#d7ebff" clip-path="url(#t0)"/>
<path d="M868.6 736.8C859.4 736.3 868.2 737.5 869.8 734.5C871.4 731.5 872.6 727.0 875.6 724.0C878.6 721.0 877.7 722.0 882.6 721.7C887.5 721.4 891.1 721.9 896.5 722.9C902.0 723.8 903.0 722.9 905.8 725.6C908.6 728.4 907.8 731.9 908.6 734.5C909.4 737.1 918.6 736.3 909.3 736.8C900.0 737.3 877.9 737.3 868.6 736.8Z" fill="#d7ebff" clip-path="url(#t0)"/>
<path d="M916.3 736.8L915.1 727.5L922.1 720.5L930.0 717.0L938.4 714.7L938.4 736.8Z" fill="#d7ebff" clip-path="url(#t0)"/>
<path d="M656.7 478.8C657.6 473.5 658.4 477.2 661.8 477.2C665.1 477.2 667.8 476.5 671.1 478.8C674.3 481.1 673.0 483.6 675.7 486.9C678.4 490.3 680.0 491.5 682.7 493.2C685.4 495.0 685.2 494.5 687.3 494.4C689.5 494.3 689.8 494.8 692.0 492.8C694.2 490.7 694.9 488.8 696.6 485.8C698.4 482.8 697.7 481.8 699.4 480.0C701.2 478.2 702.0 477.3 704.1 478.1C706.1 478.9 706.5 481.9 708.3 483.5C710.1 485.0 709.9 485.0 711.8 484.6C713.6 484.2 714.3 480.9 716.4 481.6C718.5 482.3 718.7 482.3 720.6 487.6C722.5 493.0 723.0 497.2 724.5 504.4C726.1 511.5 727.3 513.2 727.3 518.3C727.3 523.5 726.5 522.7 724.5 526.5C722.5 530.2 721.5 531.9 718.7 534.6C715.9 537.3 715.4 538.1 712.4 538.1C709.5 538.1 709.1 536.1 705.9 534.6C702.8 533.1 703.3 532.9 699.0 531.8C694.6 530.7 692.2 531.2 687.3 529.9C682.5 528.7 682.4 528.2 678.0 526.5C673.7 524.7 673.1 524.5 668.8 522.5C664.4 520.5 662.1 523.2 659.5 517.9C656.9 512.5 658.2 508.8 657.6 499.7C656.9 490.6 655.7 484.1 656.7 478.8Z" fill="#ffccb3" clip-path="url(#t0)"/>
<path d="M556.0 734.5L564.2 732.1L564.2 728.7L607.2 728.7L607.2 724.7L615.3 724.7L615.3 721.0L640.9 721.0L640.9 724.7L654.8 726.3L657.1 731.0L661.8 734.5Z" fill="#000" clip-path="url(#t0)"/>
<path d="M859.3 734.5L862.8 732.1L868.6 732.1L871.0 734.5Z" fill="#000" clip-path="url(#t0)"/>
<path d="M918.6 734.5L920.9 732.1L938.4 732.1L938.4 734.5Z" fill="#000" clip-path="url(#t0)"/>
<path d="M915.7 253.4L1343.4 253.4L1343.4 746.1L915.7 746.1Z" fill="#ffead9" clip-path="url(#t1)"/>
<path d="M1343.4 260.3C1420.5 266.6 1345.3 280.8 1343.4 287.1C1341.4 293.3 1340.4 286.5 1335.0 287.1C1329.6 287.6 1327.9 288.0 1320.1 289.4C1312.3 290.7 1309.1 290.4 1301.5 292.9C1293.9 295.3 1294.1 296.6 1287.6 299.8C1281.1 303.1 1280.7 304.6 1273.6 306.8C1266.6 309.0 1265.5 308.9 1257.4 309.1C1249.2 309.4 1246.9 308.7 1238.8 308.0C1230.6 307.3 1230.6 306.5 1222.5 306.1C1214.4 305.7 1213.7 306.5 1203.9 306.1C1194.1 305.7 1190.4 305.9 1180.7 304.5C1170.9 303.0 1170.2 302.3 1162.1 299.8C1153.9 297.4 1152.9 296.2 1145.8 294.0C1138.8 291.9 1137.8 290.8 1131.9 290.5C1125.9 290.3 1125.4 290.8 1120.2 292.9C1115.1 294.9 1113.6 298.8 1109.8 299.4C1106.0 299.9 1107.0 299.1 1104.0 295.2C1101.0 291.2 1100.0 287.8 1097.0 282.4C1094.0 277.0 1093.4 275.2 1091.2 271.9C1089.0 268.7 1089.6 268.7 1087.7 268.5C1085.8 268.2 1085.2 268.6 1083.0 270.8C1080.9 273.0 1080.8 273.1 1078.4 277.8C1076.0 282.4 1075.3 284.3 1072.6 290.5C1069.9 296.8 1068.9 298.0 1066.8 304.5C1064.6 311.0 1064.6 312.2 1063.3 318.4C1061.9 324.7 1060.7 326.3 1061.0 331.2C1061.2 336.1 1062.3 336.3 1064.5 339.3C1066.6 342.4 1067.6 342.7 1070.3 344.5C1073.0 346.2 1072.0 346.9 1076.1 346.8C1080.1 346.7 1082.3 345.3 1087.7 344.0C1093.1 342.7 1094.4 342.2 1099.3 341.2C1104.2 340.2 1105.1 339.4 1108.6 339.8C1112.1 340.2 1111.2 340.2 1114.4 342.8C1117.7 345.4 1118.5 347.9 1122.6 351.0C1126.6 354.1 1127.0 354.9 1131.9 356.1C1136.7 357.3 1138.1 355.1 1143.5 356.1C1148.9 357.1 1150.5 357.7 1155.1 360.3C1159.7 362.9 1160.3 363.3 1163.2 367.2C1166.2 371.1 1171.4 374.0 1167.9 377.0C1164.4 380.0 1157.1 379.2 1148.1 380.0C1139.2 380.8 1138.2 379.4 1129.5 380.5C1120.9 381.6 1119.1 383.4 1110.9 384.7C1102.8 385.9 1101.2 384.7 1094.7 385.8C1088.2 386.9 1087.9 387.2 1083.0 389.3C1078.2 391.5 1077.5 391.1 1073.8 395.1C1070.0 399.2 1069.9 399.7 1066.8 406.8C1063.6 413.8 1061.8 414.0 1060.3 425.3C1058.8 436.7 1060.3 443.1 1060.3 455.6C1060.3 468.0 1059.6 469.0 1060.3 478.8C1061.0 488.6 1062.2 488.5 1063.3 497.4C1064.4 506.3 1064.9 509.6 1064.9 517.2C1064.9 524.7 1064.8 524.0 1063.3 529.9C1061.8 535.9 1061.4 537.8 1058.6 542.7C1055.9 547.6 1055.2 546.2 1051.7 550.9C1048.1 555.5 1048.4 557.3 1043.5 562.5C1038.7 567.6 1034.6 568.1 1030.8 572.9C1027.0 577.8 1028.8 578.5 1027.3 583.4C1025.7 588.3 1023.9 588.4 1024.2 593.9C1024.6 599.3 1026.8 602.3 1028.9 606.6C1031.0 611.0 1030.7 610.0 1033.1 612.5C1035.4 614.9 1035.4 613.3 1038.9 617.1C1042.4 620.9 1044.4 624.2 1048.2 628.7C1052.0 633.2 1051.4 634.1 1055.2 636.4C1059.0 638.7 1060.7 637.2 1064.5 638.7C1068.3 640.2 1068.2 640.4 1071.4 642.7C1074.7 644.9 1073.8 645.8 1078.4 648.5C1083.0 651.2 1087.6 650.2 1091.2 654.3C1094.8 658.4 1094.2 658.6 1094.0 665.9C1093.7 673.2 1092.0 679.2 1090.0 685.7C1088.0 692.2 1087.5 689.5 1085.4 693.8C1083.2 698.1 1082.9 699.4 1080.7 704.3C1078.6 709.1 1079.1 710.1 1076.1 714.7C1073.1 719.3 1067.7 719.7 1067.9 724.0C1068.2 728.4 1074.3 730.3 1077.2 733.3C1080.2 736.3 1118.4 736.0 1080.7 736.8C1043.0 737.6 954.2 819.5 915.7 736.8C877.2 654.1 913.5 465.1 915.7 382.3C917.9 299.6 920.1 383.7 925.0 382.3C929.9 381.0 933.4 382.2 936.6 376.5C939.9 370.8 938.0 365.8 938.9 357.9C939.9 350.1 938.6 347.2 940.8 342.8C943.0 338.5 943.8 340.3 948.2 339.3C952.7 338.4 953.6 339.2 959.9 338.7C966.1 338.1 969.1 338.8 975.0 337.0C980.8 335.3 982.0 336.4 985.0 331.2C987.9 326.1 985.2 321.5 987.8 314.9C990.3 308.4 992.9 308.5 995.9 303.3C998.9 298.2 998.1 299.1 1000.5 292.9C1003.0 286.6 1003.8 283.2 1006.3 276.6C1008.9 270.0 1009.9 268.3 1011.5 264.5C1013.0 260.7 935.4 261.3 1012.9 260.3C1090.3 259.3 1266.2 254.1 1343.4 260.3Z" fill="#d7ebff" clip-path="url(#t1)"/>
<path d="M915.7 463.7C917.9 442.5 922.0 463.8 925.0 464.9C928.0 465.9 926.3 464.8 928.5 468.3C930.7 471.9 932.4 474.8 934.3 480.0C936.2 485.1 934.5 485.5 936.6 490.4C938.8 495.3 940.6 496.3 943.6 500.9C946.6 505.5 947.1 506.1 949.4 510.2C951.7 514.2 952.3 512.1 953.4 518.3C954.4 524.6 953.7 530.1 954.1 536.9C954.4 543.7 955.3 542.8 954.8 547.4C954.2 552.0 953.8 553.0 951.7 556.7C949.7 560.3 949.4 561.9 945.9 562.9C942.4 564.0 940.4 562.0 936.6 561.3C932.8 560.7 932.4 561.2 929.6 560.2C926.9 559.1 928.3 557.8 925.0 556.7C921.7 555.6 917.9 577.2 915.7 555.5C913.5 533.8 913.5 484.8 915.7 463.7Z" fill="#ffead9" clip-path="url(#t1)"/>
<path d="M915.7 681.0L925.0 683.3L950.1 697.3L948.2 705.4L925.0 713.1L915.7 713.6Z" fill="#ffead9" clip-path="url(#t1)"/>
<path d="M999.8 358.4C1001.7 355.4 1002.1 362.3 1004.0 363.8C1006.0 365.2 1005.8 365.5 1008.2 364.5C1010.6 363.4 1011.1 361.6 1014.5 359.1C1017.8 356.6 1019.4 355.4 1022.6 353.8C1025.9 352.1 1025.4 352.0 1028.4 352.1C1031.4 352.3 1032.1 352.3 1035.4 354.5C1038.7 356.6 1039.9 357.9 1042.4 361.4C1044.8 365.0 1044.5 365.8 1045.9 369.6C1047.2 373.4 1048.2 373.6 1048.2 377.7C1048.2 381.8 1047.5 383.5 1045.9 387.0C1044.2 390.5 1044.5 390.5 1041.2 392.8C1038.0 395.1 1035.7 396.5 1031.9 396.8C1028.1 397.0 1028.5 395.7 1024.9 394.0C1021.4 392.2 1020.6 391.3 1016.8 389.3C1013.0 387.3 1011.7 386.2 1008.7 385.4C1005.7 384.6 1006.2 386.3 1004.0 385.8C1001.9 385.4 1001.3 385.7 999.4 383.5C997.5 381.3 995.8 382.4 995.9 376.5C996.0 370.7 997.9 361.4 999.8 358.4Z" fill="#ffead9" clip-path="url(#t1)"/>
<path d="M915.7 318.0L925.0 318.9L928.5 321.9L930.1 332.4L925.0 333.5L915.7 333.5Z" fill="#d7ebff" clip-path="url(#t1)"/>
<path d="M1286.9 377.0C1285.5 374.5 1288.7 372.0 1291.1 368.4C1293.4 364.8 1293.4 364.0 1296.9 361.4C1300.4 358.9 1302.4 358.5 1306.2 357.5C1310.0 356.5 1309.4 356.6 1313.2 357.2C1316.9 357.9 1318.7 358.4 1322.4 360.3C1326.2 362.2 1326.5 362.1 1329.4 365.4C1332.4 368.6 1331.7 371.1 1335.0 374.2C1338.3 377.4 1343.4 378.0 1343.4 378.9C1343.4 379.7 1340.4 377.7 1335.0 377.9C1329.6 378.2 1326.3 379.4 1320.1 380.0C1313.9 380.7 1313.9 380.9 1308.5 380.7C1303.1 380.6 1301.9 380.2 1296.9 379.3C1291.8 378.5 1288.2 379.6 1286.9 377.0Z" fill="#d7ebff" clip-path="url(#t1)"/>
<path d="M1343.4 513.7C1341.4 474.1 1338.3 515.5 1335.0 517.2C1331.7 518.8 1332.9 517.9 1329.4 520.6C1326.0 523.4 1325.0 524.2 1320.1 528.8C1315.2 533.4 1313.7 536.1 1308.5 540.4C1303.4 544.7 1301.8 542.8 1298.0 547.4C1294.2 552.0 1294.9 554.2 1292.2 560.2C1289.5 566.1 1287.4 567.5 1286.4 572.9C1285.4 578.4 1287.3 578.5 1288.0 583.4C1288.8 588.3 1289.4 587.3 1289.4 593.9C1289.5 600.4 1290.3 605.3 1288.3 611.3C1286.2 617.3 1284.6 615.9 1280.6 619.4C1276.7 622.9 1274.8 623.1 1271.3 626.4C1267.8 629.6 1268.8 630.9 1265.5 633.4C1262.3 635.8 1262.0 635.7 1257.4 636.9C1252.8 638.0 1251.4 638.3 1245.7 638.5C1240.1 638.6 1236.7 640.1 1233.0 637.6C1229.3 635.0 1231.8 630.3 1229.9 627.6C1228.0 624.8 1228.7 626.5 1224.8 625.9C1220.9 625.4 1220.3 625.0 1213.2 625.2C1206.2 625.5 1200.6 625.2 1194.6 626.9C1188.6 628.5 1191.2 629.1 1187.6 632.2C1184.1 635.4 1183.3 635.5 1179.5 640.3C1175.7 645.2 1172.8 648.0 1171.4 653.1C1169.9 658.3 1171.9 659.2 1173.2 662.4C1174.6 665.7 1173.8 665.2 1177.2 667.1C1180.5 669.0 1183.0 669.5 1187.6 670.6C1192.3 671.6 1193.1 670.4 1196.9 671.7C1200.7 673.1 1200.5 674.1 1203.9 676.4C1207.3 678.6 1208.1 681.0 1211.3 681.5C1214.6 681.9 1214.7 680.2 1217.9 678.2C1221.0 676.2 1220.5 674.3 1224.8 672.9C1229.2 671.5 1230.8 672.6 1236.5 672.2C1242.1 671.8 1244.9 670.8 1249.2 671.3C1253.6 671.7 1252.1 672.0 1255.0 674.0C1258.0 676.0 1259.3 676.9 1262.0 679.9C1264.7 682.8 1264.0 684.7 1266.7 686.8C1269.4 689.0 1268.8 688.6 1273.6 689.2C1278.5 689.7 1279.5 689.4 1287.6 689.2C1295.7 688.9 1297.4 688.4 1308.5 688.0C1319.6 687.6 1326.9 687.6 1335.0 687.3C1343.1 687.0 1341.4 727.3 1343.4 686.8C1345.3 646.3 1345.3 553.3 1343.4 513.7Z" fill="#d7ebff" clip-path="url(#t1)"/>
<path d="M1320.1 548.5C1322.0 545.0 1326.0 544.6 1329.4 542.7C1332.9 540.8 1331.7 541.2 1335.0 540.4C1338.3 539.6 1341.4 531.3 1343.4 539.2C1345.3 547.2 1346.6 566.4 1343.4 574.6C1340.1 582.7 1333.7 574.6 1329.4 574.1C1325.2 573.6 1327.1 576.0 1325.2 572.2C1323.3 568.4 1322.5 563.4 1321.3 557.8C1320.1 552.3 1318.2 552.1 1320.1 548.5Z" fill="#b4cdff" clip-path="url(#t1)"/>
<path d="M1343.4 437.4C1341.4 421.8 1340.4 437.4 1335.0 437.4C1329.6 437.5 1327.9 438.3 1320.1 437.7C1312.3 437.0 1309.1 436.4 1301.5 434.6C1293.9 432.9 1293.6 432.1 1287.6 430.0C1281.6 427.9 1280.8 426.9 1276.0 425.8C1271.1 424.7 1272.6 425.2 1266.7 425.3C1260.7 425.5 1258.0 426.1 1250.4 426.5C1242.8 426.9 1242.3 426.4 1234.1 427.2C1226.0 428.0 1224.2 428.7 1215.5 430.0C1206.9 431.3 1204.5 431.7 1196.9 432.8C1189.3 433.9 1189.0 433.4 1183.0 434.6C1177.0 435.9 1175.7 436.0 1171.4 438.1C1167.0 440.3 1167.7 439.9 1164.4 443.9C1161.1 448.0 1160.4 450.1 1157.4 455.6C1154.4 461.0 1154.3 461.8 1151.6 467.2C1148.9 472.6 1147.3 471.8 1145.8 478.8C1144.3 485.9 1145.5 488.5 1145.1 497.4C1144.7 506.3 1143.5 509.0 1143.9 517.2C1144.4 525.3 1145.6 525.5 1147.0 532.3C1148.4 539.0 1148.6 540.0 1150.0 546.2C1151.3 552.4 1151.0 553.6 1152.8 559.0C1154.5 564.4 1154.7 565.9 1157.4 569.5C1160.1 573.0 1160.6 572.6 1164.4 574.1C1168.2 575.6 1168.8 576.0 1173.7 575.7C1178.6 575.5 1179.9 574.9 1185.3 572.9C1190.7 570.9 1191.5 569.8 1196.9 567.1C1202.4 564.4 1203.1 563.3 1208.6 561.3C1214.0 559.3 1215.8 558.5 1220.2 558.5C1224.5 558.5 1223.9 559.6 1227.2 561.3C1230.4 563.1 1230.3 564.2 1234.1 566.0C1237.9 567.7 1239.1 568.2 1243.4 568.8C1247.8 569.3 1248.9 569.8 1252.7 568.3C1256.5 566.8 1256.7 565.5 1259.7 562.5C1262.7 559.5 1262.8 559.0 1265.5 555.5C1268.2 552.0 1267.2 551.4 1271.3 547.4C1275.4 543.3 1277.0 542.4 1282.9 538.1C1288.9 533.7 1290.9 533.1 1296.9 528.8C1302.8 524.4 1303.1 523.5 1308.5 519.5C1313.9 515.4 1315.2 514.2 1320.1 511.3C1325.0 508.5 1326.0 508.5 1329.4 507.2C1332.9 505.8 1331.7 506.2 1335.0 505.5C1338.3 504.9 1341.4 520.3 1343.4 504.4C1345.3 488.5 1345.3 453.1 1343.4 437.4Z" fill="#ffccb3" clip-path="url(#t1)"/>
<path d="M1343.4 462.1C1341.4 456.0 1340.4 461.9 1335.0 462.5C1329.6 463.2 1326.8 464.3 1320.1 464.9C1313.4 465.4 1312.1 465.5 1306.2 464.9C1300.2 464.2 1300.0 464.0 1294.6 462.1C1289.1 460.2 1287.8 458.9 1282.9 456.7C1278.1 454.6 1278.0 454.1 1273.6 452.8C1269.3 451.4 1269.8 451.1 1264.3 450.9C1258.9 450.8 1258.0 451.2 1250.4 452.1C1242.8 453.0 1239.4 453.0 1231.8 454.9C1224.2 456.8 1224.4 457.5 1217.9 460.2C1211.3 462.9 1210.6 462.0 1203.9 466.5C1197.2 471.0 1192.3 473.4 1189.3 479.5C1186.3 485.6 1189.9 486.7 1191.1 492.8C1192.4 498.8 1192.8 499.6 1194.6 505.5C1196.4 511.5 1196.1 514.5 1198.8 518.3C1201.5 522.1 1201.2 520.3 1206.2 521.8C1211.2 523.3 1215.3 523.2 1220.2 524.8C1225.1 526.5 1223.4 526.2 1227.2 528.8C1231.0 531.3 1232.1 533.6 1236.5 535.7C1240.8 537.9 1241.4 538.1 1245.7 538.1C1250.1 538.1 1250.7 537.6 1255.0 535.7C1259.4 533.9 1260.0 533.5 1264.3 529.9C1268.7 526.4 1269.3 525.0 1273.6 520.6C1278.0 516.3 1278.1 515.4 1282.9 511.3C1287.8 507.3 1289.1 506.7 1294.6 503.2C1300.0 499.7 1300.2 498.9 1306.2 496.2C1312.1 493.5 1313.4 493.2 1320.1 491.6C1326.8 490.0 1329.6 490.0 1335.0 489.3C1340.4 488.6 1341.4 494.9 1343.4 488.6C1345.3 482.2 1345.3 468.1 1343.4 462.1Z" fill="#ffaa82" clip-path="url(#t1)"/>
<path d="M1233.4 479.5C1234.0 478.3 1238.9 479.3 1243.4 478.3C1247.9 477.4 1248.4 476.2 1252.7 475.3C1257.1 474.5 1257.7 474.4 1262.0 474.6C1266.4 474.9 1267.5 475.3 1271.3 476.5C1275.1 477.6 1278.3 477.1 1278.3 479.5C1278.3 481.9 1274.6 483.8 1271.3 486.9C1268.1 490.0 1267.6 490.6 1264.3 492.8C1261.1 494.9 1260.4 495.6 1257.4 496.2C1254.4 496.9 1254.0 496.9 1251.6 495.5C1249.1 494.2 1249.4 493.2 1246.9 490.4C1244.5 487.6 1244.2 486.0 1241.1 483.5C1238.0 480.9 1232.9 480.7 1233.4 479.5Z" fill="#ff7a45" clip-path="url(#t1)"/>
<path d="M1320.7 253.4L1748.4 253.4L1748.4 746.1L1320.7 746.1Z" fill="#d7ebff" clip-path="url(#t2)"/>
<path d="M1320.7 287.8C1322.9 234.0 1324.6 288.3 1330.0 287.8C1335.4 287.2 1338.0 287.2 1343.9 285.4C1349.9 283.6 1350.7 282.6 1355.6 280.1C1360.4 277.6 1360.5 276.1 1364.9 274.7C1369.2 273.4 1369.8 273.6 1374.2 274.3C1378.5 275.0 1379.1 275.3 1383.5 277.8C1387.8 280.2 1388.4 280.4 1392.8 284.7C1397.1 289.1 1397.7 290.9 1402.1 296.4C1406.4 301.8 1407.3 303.1 1411.3 308.0C1415.4 312.9 1416.0 314.4 1419.5 317.3C1423.0 320.1 1422.9 319.8 1426.5 320.1C1430.0 320.3 1430.5 319.1 1434.6 318.4C1438.7 317.8 1439.6 316.5 1443.9 317.3C1448.2 318.1 1448.3 318.7 1453.2 321.9C1458.1 325.2 1459.4 328.2 1464.8 331.2C1470.2 334.2 1469.9 333.7 1476.4 334.7C1482.9 335.7 1484.6 335.4 1492.7 335.4C1500.8 335.4 1503.2 335.0 1511.3 334.7C1519.4 334.4 1520.0 333.7 1527.6 334.2C1535.2 334.8 1535.7 336.5 1543.8 337.0C1552.0 337.6 1553.2 336.4 1562.4 336.6C1571.6 336.7 1575.2 338.2 1583.3 337.7C1591.5 337.3 1590.2 336.4 1597.3 334.7C1604.3 333.0 1606.0 332.4 1613.6 330.5C1621.2 328.6 1622.8 326.9 1629.8 326.6C1636.9 326.2 1637.3 328.8 1643.8 328.9C1650.3 329.0 1650.1 327.3 1657.7 327.0C1665.3 326.8 1669.3 326.2 1676.3 327.7C1683.4 329.2 1682.5 330.8 1687.9 333.5C1693.4 336.3 1694.1 337.3 1699.6 339.3C1705.0 341.4 1705.2 341.9 1711.2 342.1C1717.1 342.4 1719.8 341.2 1725.1 340.5C1730.4 339.9 1728.5 339.9 1734.0 339.3C1739.4 338.8 1745.0 259.0 1748.4 338.2C1751.7 417.4 1751.7 599.2 1748.4 678.7C1745.0 758.1 1739.4 678.1 1734.0 678.7C1728.5 679.2 1730.4 680.0 1725.1 681.0C1719.8 682.0 1717.1 682.3 1711.2 682.9C1705.2 683.4 1705.0 684.0 1699.6 683.3C1694.1 682.6 1693.4 681.8 1687.9 679.9C1682.5 678.0 1683.9 676.7 1676.3 675.2C1668.7 673.7 1664.1 673.9 1655.4 673.3C1646.7 672.8 1646.2 673.8 1639.1 672.9C1632.1 672.0 1630.6 672.1 1625.2 669.4C1619.8 666.7 1619.7 664.5 1615.9 661.3C1612.1 658.0 1612.2 656.7 1608.9 655.4C1605.7 654.2 1605.7 654.6 1601.9 655.9C1598.1 657.3 1597.0 659.5 1592.6 661.3C1588.3 663.0 1587.7 663.2 1583.3 663.6C1579.0 664.0 1578.4 663.3 1574.0 662.9C1569.7 662.5 1568.3 661.9 1564.8 661.7C1561.2 661.5 1561.8 663.6 1558.9 662.0C1556.1 660.3 1553.0 657.4 1552.4 654.8C1551.9 652.1 1554.3 653.9 1556.6 650.8C1558.9 647.7 1559.4 644.5 1562.4 641.5C1565.4 638.5 1566.1 641.3 1569.4 638.0C1572.7 634.8 1572.6 631.9 1576.4 627.6C1580.2 623.2 1580.8 622.9 1585.7 619.4C1590.5 615.9 1595.1 616.0 1597.3 612.5C1599.5 608.9 1596.2 608.7 1595.0 604.3C1593.8 600.0 1594.3 598.7 1592.2 593.9C1590.0 589.0 1588.2 588.3 1585.7 583.4C1583.2 578.5 1582.7 578.4 1581.5 572.9C1580.3 567.5 1581.1 565.8 1580.6 560.2C1580.0 554.5 1578.0 554.0 1579.2 548.5C1580.4 543.1 1582.0 544.0 1585.7 536.9C1589.4 529.9 1590.6 525.6 1595.0 518.3C1599.3 511.0 1599.9 509.9 1604.3 505.5C1608.6 501.2 1608.7 502.4 1613.6 499.7C1618.4 497.0 1620.3 496.9 1625.2 493.9C1630.1 490.9 1630.0 490.3 1634.5 486.9C1638.9 483.6 1643.7 483.8 1644.2 479.5C1644.8 475.2 1640.7 473.1 1636.8 468.3C1632.9 463.6 1632.4 463.1 1627.5 459.0C1622.6 455.0 1620.8 454.4 1615.9 450.9C1611.0 447.4 1610.4 448.0 1606.6 443.9C1602.8 439.9 1602.9 438.1 1599.6 433.5C1596.4 428.9 1594.8 429.3 1592.6 424.2C1590.5 419.0 1591.9 416.8 1590.3 411.4C1588.7 406.0 1588.1 404.7 1585.7 400.9C1583.2 397.1 1585.3 396.9 1579.9 395.1C1574.4 393.4 1569.2 393.1 1562.4 393.5C1555.6 393.9 1555.7 394.2 1550.8 397.0C1545.9 399.8 1544.8 401.1 1541.5 405.6C1538.3 410.0 1538.6 411.5 1536.9 416.0C1535.1 420.6 1533.8 419.5 1533.8 424.9C1533.8 430.3 1535.8 432.1 1536.9 439.3C1537.9 446.5 1537.7 446.3 1538.5 455.6C1539.3 464.8 1540.7 470.1 1540.3 478.8C1540.0 487.5 1538.5 486.0 1536.9 492.8C1535.2 499.5 1535.0 500.8 1533.4 507.9C1531.7 514.9 1531.2 517.0 1529.9 523.0C1528.5 528.9 1529.2 529.1 1527.6 533.4C1525.9 537.8 1525.6 538.4 1522.9 541.6C1520.2 544.7 1519.2 545.9 1515.9 546.9C1512.7 547.9 1512.0 545.8 1509.0 545.7C1506.0 545.7 1505.9 544.9 1503.2 546.7C1500.4 548.4 1499.8 551.0 1497.3 553.2C1494.9 555.4 1495.0 556.7 1492.7 556.2C1490.4 555.7 1489.3 555.4 1487.6 550.9C1485.8 546.4 1486.2 544.5 1485.3 536.9C1484.3 529.3 1484.9 525.6 1483.4 518.3C1481.9 511.0 1480.9 510.7 1478.8 505.5C1476.6 500.4 1476.4 499.5 1474.1 496.2C1471.8 493.0 1473.1 491.9 1468.8 491.6C1464.4 491.3 1461.9 492.9 1455.5 495.1C1449.2 497.2 1447.5 497.6 1441.6 500.9C1435.6 504.1 1435.4 505.0 1429.9 509.0C1424.5 513.1 1422.7 514.8 1418.3 518.3C1414.0 521.8 1414.6 521.9 1411.3 524.1C1408.1 526.4 1408.7 527.4 1404.4 528.1C1400.0 528.8 1398.7 528.1 1392.8 527.1C1386.8 526.2 1385.3 526.3 1378.8 524.1C1372.3 522.0 1371.9 519.9 1364.9 517.9C1357.8 515.8 1356.7 515.5 1348.6 515.5C1340.5 515.5 1336.5 517.2 1330.0 517.9C1323.5 518.5 1322.9 572.0 1320.7 518.3C1318.5 464.6 1318.5 341.5 1320.7 287.8Z" fill="#ffead9" clip-path="url(#t2)"/>
<path d="M1384.2 424.6C1382.3 419.7 1385.8 413.9 1386.9 406.8C1388.1 399.6 1387.6 398.0 1389.3 394.0C1390.9 389.9 1390.4 390.7 1393.9 389.3C1397.4 388.0 1397.6 388.1 1404.4 388.2C1411.2 388.3 1414.3 389.6 1423.0 389.8C1431.6 389.9 1433.4 389.0 1441.6 388.9C1449.7 388.7 1450.8 388.5 1457.8 389.3C1464.9 390.1 1464.2 390.2 1471.8 392.3C1479.4 394.5 1482.8 395.0 1490.4 398.6C1498.0 402.3 1499.3 401.8 1504.3 407.9C1509.4 414.0 1512.3 419.2 1512.0 424.6C1511.7 430.1 1508.2 428.3 1503.2 431.2C1498.1 434.0 1495.5 434.5 1490.4 437.0C1485.2 439.4 1484.9 438.9 1481.1 441.6C1477.3 444.3 1476.8 446.4 1474.1 448.6C1471.4 450.8 1472.7 451.7 1469.5 450.9C1466.2 450.1 1465.6 447.3 1460.2 445.1C1454.7 442.9 1453.3 443.8 1446.2 441.6C1439.2 439.4 1438.1 438.1 1429.9 435.8C1421.8 433.5 1419.5 433.4 1411.3 431.6C1403.2 429.8 1401.4 429.8 1395.1 428.1C1388.7 426.5 1386.1 429.6 1384.2 424.6Z" fill="#d7ebff" clip-path="url(#t2)"/>
<path d="M1320.7 360.3L1330.0 366.1L1331.9 369.6L1334.6 377.7L1330.0 378.9L1320.7 380.0Z" fill="#d7ebff" clip-path="url(#t2)"/>
<path d="M1748.4 390.5C1745.0 364.7 1739.4 390.8 1734.0 391.6C1728.5 392.5 1729.4 392.1 1725.1 394.0C1720.9 395.9 1719.1 396.3 1715.8 399.8C1712.6 403.3 1713.1 403.7 1711.2 409.1C1709.3 414.5 1710.4 417.3 1707.7 423.0C1705.0 428.7 1703.1 428.1 1699.6 433.5C1696.0 438.9 1695.6 440.0 1692.6 446.3C1689.6 452.5 1689.4 452.6 1686.8 460.2C1684.2 467.8 1681.2 472.0 1681.4 478.8C1681.7 485.6 1684.2 484.9 1687.9 489.3C1691.6 493.6 1692.9 494.1 1697.2 497.4C1701.6 500.7 1702.2 500.9 1706.5 503.2C1710.9 505.5 1711.5 506.1 1715.8 507.2C1720.2 508.2 1720.9 508.4 1725.1 507.9C1729.4 507.3 1728.5 506.2 1734.0 504.8C1739.4 503.5 1745.0 528.7 1748.4 502.0C1751.7 475.4 1751.7 416.2 1748.4 390.5Z" fill="#d7ebff" clip-path="url(#t2)"/>
<path d="M1748.4 604.3C1745.0 595.6 1742.1 604.5 1734.0 605.5C1725.8 606.5 1722.1 608.1 1713.5 608.5C1704.9 608.9 1704.3 606.7 1697.2 607.3C1690.2 608.0 1686.0 608.5 1683.3 611.3C1680.6 614.1 1683.4 615.6 1685.6 619.4C1687.8 623.2 1689.3 625.1 1692.6 627.6C1695.8 630.0 1695.8 629.2 1699.6 629.9C1703.4 630.5 1702.9 629.3 1708.9 630.3C1714.8 631.4 1719.3 632.2 1725.1 634.5C1731.0 636.9 1728.5 638.4 1734.0 640.3C1739.4 642.2 1745.0 651.1 1748.4 642.7C1751.7 634.3 1751.7 613.0 1748.4 604.3Z" fill="#d7ebff" clip-path="url(#t2)"/>
<path d="M1320.7 686.8C1322.9 675.0 1325.1 687.2 1330.0 686.1C1334.9 685.0 1335.1 685.0 1341.6 682.2C1348.1 679.4 1349.8 677.3 1357.9 674.0C1366.0 670.8 1368.4 671.2 1376.5 668.2C1384.6 665.2 1386.2 664.5 1392.8 661.3C1399.3 658.0 1399.5 656.5 1404.4 654.3C1409.3 652.1 1408.8 652.9 1413.7 652.0C1418.6 651.0 1420.4 650.6 1425.3 650.3C1430.2 650.1 1429.7 650.5 1434.6 650.8C1439.5 651.1 1441.3 651.9 1446.2 651.5C1451.1 651.1 1451.4 649.9 1455.5 649.2C1459.6 648.5 1460.4 647.6 1463.6 648.5C1466.9 649.4 1467.0 650.7 1469.5 653.1C1471.9 655.6 1471.9 657.3 1474.1 658.9C1476.3 660.6 1475.5 660.5 1478.8 660.1C1482.0 659.7 1483.7 658.7 1488.0 657.1C1492.4 655.4 1493.0 654.6 1497.3 653.1C1501.7 651.7 1502.6 650.4 1506.6 650.8C1510.7 651.2 1512.2 651.3 1514.8 655.0C1517.4 658.7 1517.8 662.2 1517.8 666.6C1517.8 671.1 1516.6 669.6 1514.8 674.0C1513.0 678.5 1511.8 680.5 1510.1 685.7C1508.5 690.8 1507.0 693.1 1507.8 696.1C1508.6 699.1 1510.6 697.7 1513.6 698.4C1516.6 699.2 1517.6 697.5 1520.6 699.1C1523.6 700.8 1524.2 701.5 1526.4 705.4C1528.6 709.3 1528.1 711.8 1529.9 715.9C1531.7 719.9 1530.8 720.6 1534.1 722.9C1537.3 725.1 1539.4 724.6 1543.8 725.6C1548.3 726.7 1548.8 726.3 1553.1 727.5C1557.5 728.7 1559.2 729.6 1562.4 731.0C1565.7 732.3 1565.4 732.0 1567.1 733.3C1568.7 734.7 1626.9 736.0 1569.4 736.8C1511.9 737.6 1378.7 748.5 1320.7 736.8C1262.7 725.1 1318.5 698.6 1320.7 686.8Z" fill="#ffead9" clip-path="url(#t2)"/>
<path d="M1350.5 725.2C1351.5 722.5 1351.8 723.8 1357.9 722.9C1364.0 721.9 1366.7 721.6 1376.5 721.0C1386.2 720.3 1388.9 720.2 1399.7 720.1C1410.6 720.0 1412.1 720.3 1423.0 720.5C1433.8 720.8 1437.5 721.2 1446.2 721.2C1454.9 721.2 1454.2 720.1 1460.2 720.5C1466.1 720.9 1468.0 721.0 1471.8 722.9C1475.6 724.8 1477.0 726.0 1476.4 728.7C1475.9 731.4 1498.2 733.1 1469.5 734.5C1440.7 735.8 1381.0 736.6 1353.2 734.5C1325.5 732.3 1349.4 727.9 1350.5 725.2Z" fill="#d7ebff" clip-path="url(#t2)"/>
<path d="M1320.7 437.0C1322.9 420.8 1325.1 437.1 1330.0 437.0C1334.9 436.8 1335.1 436.0 1341.6 436.3C1348.1 436.5 1349.8 436.9 1357.9 438.1C1366.0 439.4 1367.8 439.8 1376.5 441.6C1385.2 443.4 1386.9 443.7 1395.1 445.8C1403.2 447.9 1404.3 448.2 1411.3 450.4C1418.4 452.7 1419.3 452.2 1425.3 455.6C1431.3 458.9 1432.0 461.1 1436.9 464.9C1441.8 468.7 1441.7 468.4 1446.2 471.8C1450.7 475.2 1456.7 476.2 1456.2 479.5C1455.7 482.8 1448.9 482.7 1443.9 485.8C1438.8 488.9 1438.9 489.5 1434.6 492.8C1430.3 496.0 1429.6 496.7 1425.3 499.7C1421.0 502.7 1420.3 503.3 1416.0 505.5C1411.7 507.8 1411.6 508.2 1406.7 509.5C1401.8 510.7 1401.0 510.7 1395.1 510.9C1389.1 511.0 1388.2 511.1 1381.1 510.2C1374.1 509.3 1372.5 508.4 1364.9 507.2C1357.3 506.0 1356.7 505.3 1348.6 505.1C1340.5 504.9 1336.5 506.0 1330.0 506.2C1323.5 506.5 1322.9 522.4 1320.7 506.2C1318.5 490.1 1318.5 453.1 1320.7 437.0Z" fill="#ffccb3" clip-path="url(#t2)"/>
<path d="M1320.7 463.0C1322.9 457.0 1324.6 463.8 1330.0 463.0C1335.4 462.2 1336.9 460.7 1343.9 459.7C1351.0 458.8 1352.6 459.0 1360.2 459.0C1367.8 459.0 1368.9 459.2 1376.5 459.7C1384.1 460.3 1385.7 459.9 1392.8 461.4C1399.8 462.8 1400.2 463.5 1406.7 466.0C1413.2 468.6 1415.1 469.2 1420.6 472.3C1426.2 475.4 1430.4 475.8 1430.4 479.5C1430.4 483.2 1425.6 484.6 1420.6 488.1C1415.7 491.6 1413.9 492.4 1409.0 494.6C1404.1 496.8 1404.6 496.6 1399.7 497.4C1394.8 498.2 1394.6 498.4 1388.1 497.9C1381.6 497.3 1380.0 496.4 1371.8 495.1C1363.7 493.8 1360.8 493.4 1353.2 492.3C1345.7 491.2 1344.7 491.2 1339.3 490.4C1333.9 489.6 1334.3 489.2 1330.0 488.8C1325.7 488.4 1322.9 494.8 1320.7 488.8C1318.5 482.8 1318.5 469.0 1320.7 463.0Z" fill="#ffaa82" clip-path="url(#t2)"/>
<path d="M1349.8 479.5C1350.3 478.7 1357.5 478.3 1364.9 477.6C1372.2 476.9 1374.6 476.8 1381.1 476.5C1387.6 476.2 1387.3 475.8 1392.8 476.5C1398.2 477.1 1403.3 477.9 1404.4 479.3C1405.5 480.6 1401.2 481.3 1397.4 482.3C1393.6 483.3 1393.0 483.5 1388.1 483.5C1383.2 483.5 1382.5 482.8 1376.5 482.3C1370.5 481.7 1368.8 481.8 1362.5 481.1C1356.3 480.5 1349.2 480.3 1349.8 479.5Z" fill="#ff7a45" clip-path="url(#t2)"/>
<path d="M1618.9 548.5C1619.2 540.9 1623.8 539.4 1627.5 532.3C1631.2 525.1 1630.6 522.7 1634.9 517.9C1639.3 513.0 1641.3 513.3 1646.1 511.3C1650.9 509.4 1651.1 509.5 1655.4 509.5C1659.7 509.5 1660.4 509.6 1664.7 511.3C1669.0 513.1 1670.2 515.0 1674.0 517.2C1677.8 519.3 1678.0 517.9 1681.0 520.6C1683.9 523.4 1684.6 525.0 1686.8 528.8C1688.9 532.6 1688.6 532.3 1690.3 536.9C1691.9 541.5 1694.3 544.2 1693.7 548.5C1693.2 552.9 1691.5 552.0 1687.9 555.5C1684.4 559.0 1683.0 559.8 1678.6 563.6C1674.3 567.4 1673.1 569.5 1669.3 571.8C1665.5 574.1 1666.2 573.1 1662.4 573.4C1658.6 573.7 1658.0 572.4 1653.1 572.9C1648.2 573.5 1646.3 575.7 1641.5 575.7C1636.6 575.7 1635.7 575.5 1632.2 572.9C1628.6 570.4 1629.4 570.5 1626.3 564.8C1623.3 559.1 1618.6 556.1 1618.9 548.5Z" fill="#ffccb3" clip-path="url(#t2)"/>
<path d="M1320.7 540.4C1322.9 532.4 1325.7 540.7 1330.0 540.4C1334.3 540.1 1332.8 539.3 1339.3 539.2C1345.8 539.1 1349.2 539.1 1357.9 539.9C1366.6 540.7 1368.9 541.4 1376.5 542.7C1384.1 544.1 1384.9 544.4 1390.4 545.7C1396.0 547.1 1399.7 546.0 1400.2 548.5C1400.7 551.1 1397.2 553.1 1392.8 556.7C1388.3 560.2 1386.0 560.4 1381.1 563.6C1376.3 566.9 1375.6 568.3 1371.8 570.6C1368.0 572.9 1368.7 573.3 1364.9 573.6C1361.1 574.0 1359.9 572.5 1355.6 572.2C1351.2 572.0 1350.6 572.0 1346.3 572.5C1341.9 572.9 1340.8 573.6 1337.0 574.1C1333.2 574.6 1333.8 574.5 1330.0 574.6C1326.2 574.7 1322.9 582.5 1320.7 574.6C1318.5 566.6 1318.5 548.4 1320.7 540.4Z" fill="#b4cdff" clip-path="url(#t2)"/>
<path d="M1406.7 548.5C1408.9 544.5 1413.4 546.2 1418.3 542.7C1423.2 539.2 1423.3 539.1 1427.6 533.4C1432.0 527.7 1432.0 523.2 1436.9 518.3C1441.8 513.4 1443.7 514.6 1448.5 512.5C1453.4 510.4 1454.0 510.0 1457.8 509.5C1461.6 508.9 1461.7 508.2 1464.8 510.2C1467.9 512.1 1470.0 512.7 1471.1 517.9C1472.2 523.0 1470.4 525.1 1469.5 532.3C1468.5 539.4 1468.8 540.9 1467.1 548.5C1465.5 556.1 1465.2 557.8 1462.5 564.8C1459.8 571.9 1458.8 573.6 1455.5 578.7C1452.3 583.9 1452.3 583.6 1448.5 586.9C1444.7 590.1 1443.0 591.4 1439.2 592.7C1435.4 593.9 1436.1 593.9 1432.3 592.2C1428.5 590.6 1426.8 588.6 1423.0 585.7C1419.2 582.8 1418.9 582.9 1416.0 579.9C1413.1 576.9 1412.3 577.5 1410.7 572.9C1409.0 568.3 1409.9 565.8 1409.0 560.2C1408.1 554.5 1404.5 552.6 1406.7 548.5Z" fill="#b4cdff" clip-path="url(#t2)"/>
<path d="M1469.5 734.5L1478.8 732.1L1478.8 728.7L1485.7 728.7L1485.7 732.1L1567.1 732.1L1567.1 734.5Z" fill="#000" clip-path="url(#t2)"/>
</g>
<rect x="522.3" y="262.4" width="1213.5" height="472.3" fill="none" stroke="#000" stroke-width="4"/>
<path d="M522.3 262.4v-28.5M522.3 734.7v28.5M725.3 262.4v-28.5M725.3 734.7v28.5M928.3 262.4v-28.5M928.3 734.7v28.5M1131.3 262.4v-28.5M1131.3 734.7v28.5M1334.3 262.4v-28.5M1334.3 734.7v28.5M1537.3 262.4v-28.5M1537.3 734.7v28.5" stroke="#000" stroke-width="4" stroke-linecap="round" fill="none"/>
<path d="M623.8 262.4v-14M623.8 734.7v14M826.8 262.4v-14M826.8 734.7v14M1029.8 262.4v-14M1029.8 734.7v14M1232.8 262.4v-14M1232.8 734.7v14M1435.8 262.4v-14M1435.8 734.7v14M1638.9 262.4v-14M1638.9 734.7v14" stroke="#000" stroke-width="2" stroke-linecap="round" fill="none"/>
<text class="h" x="475.5" y="274.7" font-size="32.6" stroke-width="1.1" text-anchor="end" letter-spacing="0.7">30</text>
<text class="h" x="475.5" y="343.5" font-size="32.6" stroke-width="1.1" text-anchor="end" letter-spacing="0.7">50</text>
<text class="h" x="475.5" y="388.8" font-size="32.6" stroke-width="1.1" text-anchor="end" letter-spacing="0.7">70</text>
<text class="h" x="475.5" y="436.9" font-size="32.6" stroke-width="1.1" text-anchor="end" letter-spacing="0.7">100</text>
<text class="h" x="475.5" y="491.5" font-size="32.6" stroke-width="1.1" text-anchor="end" letter-spacing="0.7">150</text>
<text class="h" x="475.5" y="530.2" font-size="32.6" stroke-width="1.1" text-anchor="end" letter-spacing="0.7">200</text>
<text class="h" x="475.5" y="560.3" font-size="32.6" stroke-width="1.1" text-anchor="end" letter-spacing="0.7">250</text>
<text class="h" x="475.5" y="584.8" font-size="32.6" stroke-width="1.1" text-anchor="end" letter-spacing="0.7">300</text>
<text class="h" x="475.5" y="623.6" font-size="32.6" stroke-width="1.1" text-anchor="end" letter-spacing="0.7">400</text>
<text class="h" x="475.5" y="653.6" font-size="32.6" stroke-width="1.1" text-anchor="end" letter-spacing="0.7">500</text>
<text class="h" x="475.5" y="699.0" font-size="32.6" stroke-width="1.1" text-anchor="end" letter-spacing="0.7">700</text>
<text class="h" x="475.5" y="725.1" font-size="32.6" stroke-width="1.1" text-anchor="end" letter-spacing="0.7">850</text>
<text class="h" x="475.5" y="747.0" font-size="32.6" stroke-width="1.1" text-anchor="end" letter-spacing="0.7">1000</text>
<text class="h" x="1784.0" y="681.9" font-size="32.6" stroke-width="1.1" text-anchor="start" letter-spacing="0.7">4</text>
<text class="h" x="1784.0" y="608.3" font-size="32.6" stroke-width="1.1" text-anchor="start" letter-spacing="0.7">8</text>
<text class="h" x="1784.0" y="526.0" font-size="32.6" stroke-width="1.1" text-anchor="start" letter-spacing="0.7">12</text>
<text class="h" x="1784.0" y="441.6" font-size="32.6" stroke-width="1.1" text-anchor="start" letter-spacing="0.7">16</text>
<text class="h" x="1784.0" y="357.0" font-size="32.6" stroke-width="1.1" text-anchor="start" letter-spacing="0.7">20</text>
<path d="M522.3 262.4h-28.5M522.3 331.2h-28.5M522.3 376.5h-28.5M522.3 424.6h-28.5M522.3 479.2h-28.5M522.3 517.9h-28.5M522.3 548.0h-28.5M522.3 572.5h-28.5M522.3 611.3h-28.5M522.3 641.3h-28.5M522.3 686.7h-28.5M522.3 712.8h-28.5M522.3 734.7h-28.5M1735.8 669.6h28.5M1735.8 596.0h28.5M1735.8 513.7h28.5M1735.8 429.3h28.5M1735.8 344.7h28.5" stroke="#000" stroke-width="4" stroke-linecap="round" fill="none"/>
<text class="h" x="522.3" y="808.8" font-size="32.4" stroke-width="1.0" text-anchor="middle" letter-spacing="0.5">0</text>
<text class="h" x="725.3" y="808.8" font-size="32.4" stroke-width="1.0" text-anchor="middle" letter-spacing="0.5">60E</text>
<text class="h" x="928.3" y="808.8" font-size="32.4" stroke-width="1.0" text-anchor="middle" letter-spacing="0.5">120E</text>
<text class="h" x="1131.3" y="808.8" font-size="32.4" stroke-width="1.0" text-anchor="middle" letter-spacing="0.5">180</text>
<text class="h" x="1288.8" y="808.8" font-size="32.4" stroke-width="1.0" text-anchor="start" textLength="88.5" lengthAdjust="spacingAndGlyphs">120W</text>
<text class="h" x="1502.3" y="808.8" font-size="32.4" stroke-width="1.0" text-anchor="start" textLength="69.5" lengthAdjust="spacingAndGlyphs">60W</text>
<text class="h"><tspan x="520.3" y="222.4" font-size="38.1" stroke-width="1.0" textLength="181.0" lengthAdjust="spacingAndGlyphs">Transient</tspan> <tspan x="723" y="222.4" font-size="38.1" stroke-width="1.0" textLength="93.5" lengthAdjust="spacingAndGlyphs">eddy</tspan> <tspan x="833.3" y="222.4" font-size="38.1" stroke-width="1.0" textLength="54.0" lengthAdjust="spacingAndGlyphs">KE</tspan></text>
<text class="h"><tspan x="1618.5" y="222.2" font-size="34.5" stroke-width="1.0" textLength="35.5" lengthAdjust="spacingAndGlyphs">m</tspan><tspan x="1657" y="204.3" font-size="24" stroke-width="1.0">2</tspan><tspan x="1674.5" y="226.4" font-size="55" stroke-width="0.3" rotate="9.5">/</tspan><tspan x="1701" y="222.2" font-size="34.5" stroke-width="1.0" textLength="20.5" lengthAdjust="spacingAndGlyphs">s</tspan><tspan x="1723" y="204.3" font-size="24" stroke-width="1.0">2</tspan></text>
<text class="h" transform="translate(359,0) rotate(-90)"><tspan x="-689.5" y="0.0" font-size="48" stroke-width="0.6" textLength="226.0" lengthAdjust="spacingAndGlyphs">Pressure</tspan> <tspan x="-434.5" y="3.6" font-size="62.4" stroke-width="0.3">(</tspan><tspan x="-411.0" y="0.0" font-size="48" stroke-width="0.6" textLength="80.0" lengthAdjust="spacingAndGlyphs">mb</tspan><tspan x="-331.2" y="3.6" font-size="62.4" stroke-width="0.3">)</tspan></text>
<text class="h" transform="translate(1902,0) rotate(-90)"><tspan x="-656.5" y="0.0" font-size="48" stroke-width="0.6" textLength="164.0" lengthAdjust="spacingAndGlyphs">Height</tspan> <tspan x="-465.7" y="3.6" font-size="62.4" stroke-width="0.3">(</tspan><tspan x="-439.5" y="0.0" font-size="48" stroke-width="0.6" textLength="73.0" lengthAdjust="spacingAndGlyphs">km</tspan><tspan x="-365.2" y="3.6" font-size="62.4" stroke-width="0.3">)</tspan></text>
<text class="h"><tspan x="894.5" y="836.8" font-size="28.3" stroke-width="0.9" textLength="51.0" lengthAdjust="spacingAndGlyphs">MIN</tspan> <tspan x="961.8" y="836.8" font-size="28.3" stroke-width="0.9" textLength="25.0" lengthAdjust="spacingAndGlyphs">=</tspan> <tspan x="1003.0" y="836.8" font-size="28.3" stroke-width="0.9" textLength="110.0" lengthAdjust="spacingAndGlyphs">−10.07</tspan> <tspan x="1145.5" y="836.8" font-size="28.3" stroke-width="0.9" textLength="57.5" lengthAdjust="spacingAndGlyphs">MAX</tspan> <tspan x="1219.8" y="836.8" font-size="28.3" stroke-width="0.9" textLength="25.0" lengthAdjust="spacingAndGlyphs">=</tspan> <tspan x="1278.5" y="836.8" font-size="28.3" stroke-width="0.9" textLength="84.0" lengthAdjust="spacingAndGlyphs">16.18</tspan></text>
<rect x="529.20" y="865.2" width="75.46" height="19.8" fill="#00008b"/>
<rect x="604.16" y="865.2" width="75.46" height="19.8" fill="#0020b8"/>
<rect x="679.12" y="865.2" width="75.46" height="19.8" fill="#0030e0"/>
<rect x="754.08" y="865.2" width="75.46" height="19.8" fill="#1e50ff"/>
<rect x="829.04" y="865.2" width="75.46" height="19.8" fill="#4178ff"/>
<rect x="904.00" y="865.2" width="75.46" height="19.8" fill="#87aaff"/>
<rect x="978.96" y="865.2" width="75.46" height="19.8" fill="#b4cdff"/>
<rect x="1053.92" y="865.2" width="75.46" height="19.8" fill="#d7ebff"/>
<rect x="1128.88" y="865.2" width="75.46" height="19.8" fill="#ffead9"/>
<rect x="1203.84" y="865.2" width="75.46" height="19.8" fill="#ffccb3"/>
<rect x="1278.80" y="865.2" width="75.46" height="19.8" fill="#ffaa82"/>
<rect x="1353.76" y="865.2" width="75.46" height="19.8" fill="#ff7a45"/>
<rect x="1428.72" y="865.2" width="75.46" height="19.8" fill="#ff501e"/>
<rect x="1503.68" y="865.2" width="75.46" height="19.8" fill="#e23200"/>
<rect x="1578.64" y="865.2" width="75.46" height="19.8" fill="#bd2503"/>
<rect x="1653.60" y="865.2" width="75.46" height="19.8" fill="#8b0000"/>
<path d="M529.2 865.2H1728.6V885H529.2ZM604.2 865.2V885M679.1 865.2V885M754.1 865.2V885M829.0 865.2V885M904.0 865.2V885M979.0 865.2V885M1053.9 865.2V885M1128.9 865.2V885M1203.8 865.2V885M1278.8 865.2V885M1353.8 865.2V885M1428.7 865.2V885M1503.7 865.2V885M1578.6 865.2V885M1653.6 865.2V885" stroke="#000" stroke-width="2.4" fill="none" stroke-linejoin="round"/>
<text class="h" x="604.2" y="918.6" font-size="29.5" stroke-width="0.9" text-anchor="middle" letter-spacing="0.5">−50</text>
<text class="h" x="679.1" y="918.6" font-size="29.5" stroke-width="0.9" text-anchor="middle" letter-spacing="0.5">−40</text>
<text class="h" x="754.1" y="918.6" font-size="29.5" stroke-width="0.9" text-anchor="middle" letter-spacing="0.5">−30</text>
<text class="h" x="829.0" y="918.6" font-size="29.5" stroke-width="0.9" text-anchor="middle" letter-spacing="0.5">−20</text>
<text class="h" x="904.0" y="918.6" font-size="29.5" stroke-width="0.9" text-anchor="middle" letter-spacing="0.5">−15</text>
<text class="h" x="979.0" y="918.6" font-size="29.5" stroke-width="0.9" text-anchor="middle" letter-spacing="0.5">−10</text>
<text class="h" x="1053.9" y="918.6" font-size="29.5" stroke-width="0.9" text-anchor="middle" letter-spacing="0.5">−5</text>
<text class="h" x="1128.9" y="918.6" font-size="29.5" stroke-width="0.9" text-anchor="middle" letter-spacing="0.5">0</text>
<text class="h" x="1203.8" y="918.6" font-size="29.5" stroke-width="0.9" text-anchor="middle" letter-spacing="0.5">5</text>
<text class="h" x="1278.8" y="918.6" font-size="29.5" stroke-width="0.9" text-anchor="middle" letter-spacing="0.5">10</text>
<text class="h" x="1353.8" y="918.6" font-size="29.5" stroke-width="0.9" text-anchor="middle" letter-spacing="0.5">15</text>
<text class="h" x="1428.7" y="918.6" font-size="29.5" stroke-width="0.9" text-anchor="middle" letter-spacing="0.5">20</text>
<text class="h" x="1503.7" y="918.6" font-size="29.5" stroke-width="0.9" text-anchor="middle" letter-spacing="0.5">30</text>
<text class="h" x="1578.6" y="918.6" font-size="29.5" stroke-width="0.9" text-anchor="middle" letter-spacing="0.5">40</text>
<text class="h" x="1653.6" y="918.6" font-size="29.5" stroke-width="0.9" text-anchor="middle" letter-spacing="0.5">50</text>
</g>
<defs><clipPath id="t0"><rect x="500" y="250" width="429" height="500"/></clipPath><clipPath id="t1"><rect x="928" y="250" width="406" height="500"/></clipPath><clipPath id="t2"><rect x="1333" y="250" width="420" height="500"/></clipPath></defs>
<defs><clipPath id="clip"><rect x="522.3" y="262.4" width="1213.5" height="472.3"/></clipPath></defs>
</svg></body></html>
